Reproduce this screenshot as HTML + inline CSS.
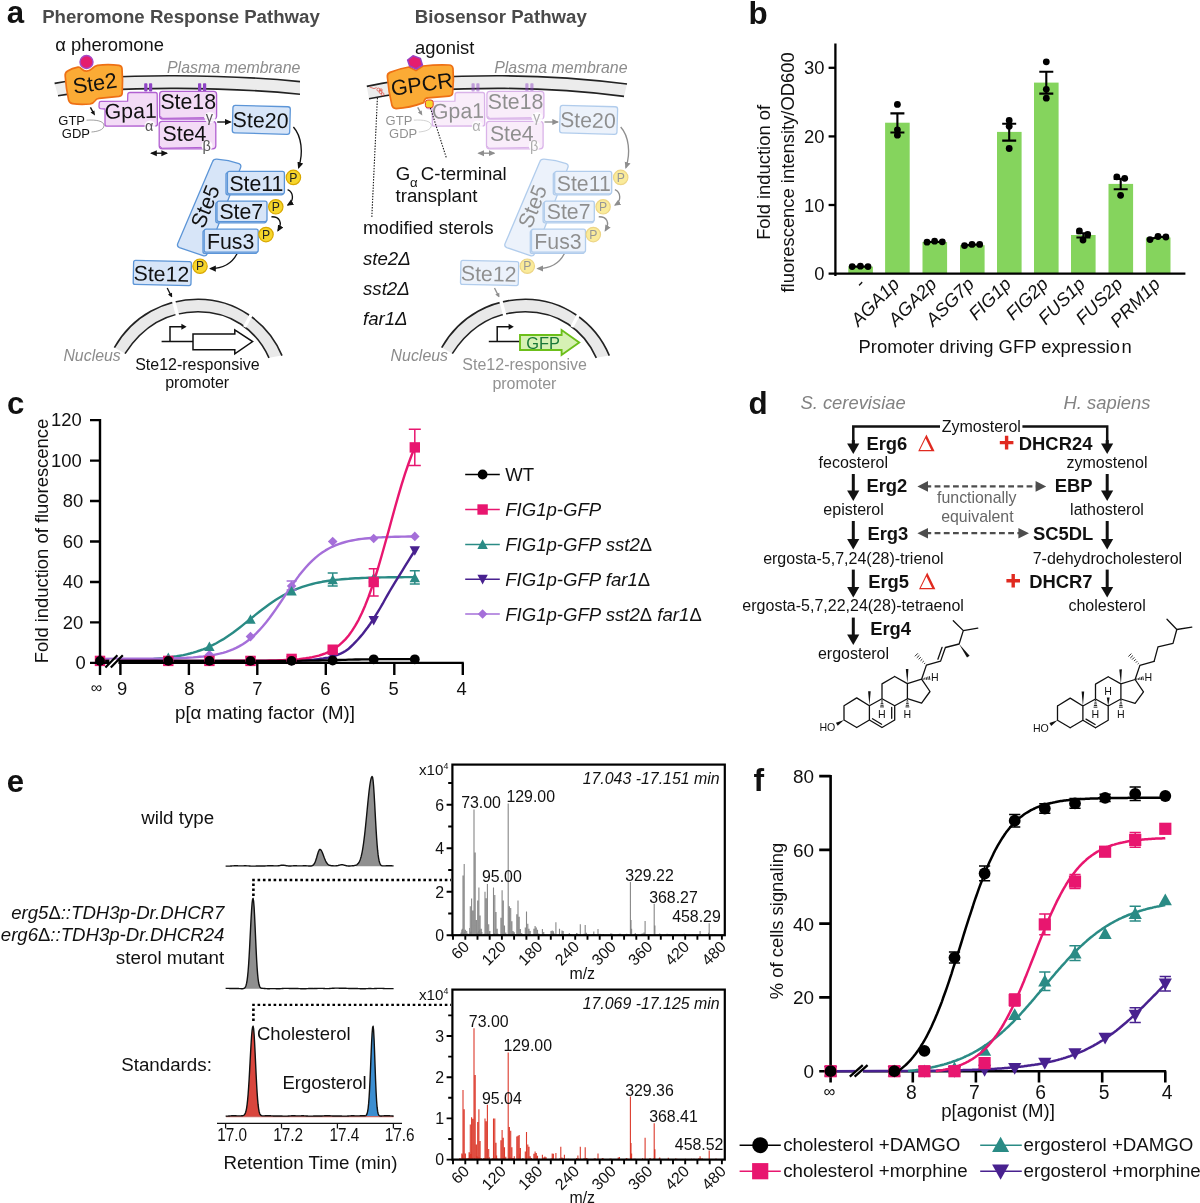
<!DOCTYPE html>
<html><head><meta charset="utf-8"><title>Figure</title>
<style>
html,body{margin:0;padding:0;background:#fff;}
body{width:1200px;height:1203px;overflow:hidden;font-family:"Liberation Sans",sans-serif;}
svg{display:block;font-family:"Liberation Sans",sans-serif;will-change:transform;}
text{font-family:"Liberation Sans",sans-serif;}
.i{font-style:italic}.b{font-weight:bold}
</style></head><body>
<svg width="1200" height="1203" viewBox="0 0 1200 1203">
<rect width="1200" height="1203" fill="#fff"/>
<!-- panel a -->
<defs>
<marker id="ah" viewBox="0 0 10 10" refX="8" refY="5" markerWidth="5" markerHeight="5" orient="auto-start-reverse"><path d="M0,0.5 L10,5 L0,9.5 Z" fill="#111"/></marker>
<g id="pbox">
</g>
<g id="cascade" font-size="21.3" fill="#111">
  <!-- lipid anchors -->
  <g fill="#8e44c4"><rect x="144.2" y="83.2" width="3.2" height="8.4" rx="0.8"/><rect x="149" y="83.2" width="3.2" height="8.4" rx="0.8"/><rect x="198" y="83.2" width="3.2" height="8.4" rx="0.8"/><rect x="203" y="83.2" width="3.2" height="8.4" rx="0.8"/></g>
  <!-- Gpa1 -->
  <path d="M130,92.5 L155.5,92.5 Q157.2,92.5 157.2,94.5 L157.4,124 Q157.4,126 155.4,126 L107,126.2 Q105,126.2 105,124.2 L105,109 L100.5,108.6 Q99,108.4 99,106.8 L99.2,103 Q99.3,101.3 101,101.3 L127.6,101.2 L127.8,94.5 Q127.9,92.5 130,92.5 Z" fill="#f3dbf6" stroke="#b160d1" stroke-width="1.3" stroke-linejoin="round"/>
  <!-- Ste18 -->
  <rect x="159.6" y="91.4" width="57" height="27.6" rx="3" fill="#f3dbf6" stroke="#b160d1" stroke-width="1.3"/>
  <path d="M160.5,116 Q161,118.2 163,118.3 L204,117.6" fill="none" stroke="#b160d1" stroke-width="1"/>
  <!-- Ste4 -->
  <rect x="159.2" y="121.4" width="56.6" height="27.4" rx="3" fill="#f3dbf6" stroke="#b160d1" stroke-width="1.3"/>
  <path d="M160,146 Q160.5,148 162.5,148.2 L202,147.4" fill="none" stroke="#b160d1" stroke-width="1"/>
  <!-- greek halos -->
  <g fill="#fff" opacity="0.85"><circle cx="150" cy="126" r="5.5"/><circle cx="210" cy="117.5" r="5.5"/><circle cx="207" cy="146" r="5.5"/></g>
  <g font-size="14.5" fill="#555"><text x="145" y="130.5">α</text><text x="205.8" y="121.5">γ</text><text x="202.6" y="150.5">β</text></g>
  <!-- Ste20 -->
  <g transform="rotate(1.6 261 120)"><rect x="232.6" y="106" width="57.4" height="27.6" rx="2.5" fill="#d7e5f8" stroke="#5c95d7" stroke-width="1.3"/>
  <text x="232.8" y="127.6">Ste20</text></g>
  <text x="104.6" y="118.2" transform="rotate(-1 130 110)">Gpa1</text>
  <text x="160.4" y="108.6">Ste18</text>
  <text x="162.6" y="141.4">Ste4</text>
  <!-- GTP GDP -->
  <g font-size="13"><text x="58.3" y="124.6">GTP</text><text x="61.8" y="137.6">GDP</text></g>
  <path d="M86.5,120.2 C96,119.5 104,121 104,125.5 C104,130 97,131.6 91.5,132" fill="none" stroke="#777" stroke-width="0.7"/>
  <!-- arrows -->
  <g stroke="#111" stroke-width="1.35" fill="none">
   <path d="M90.4,107.4 L93.2,112.4"/><path d="M95,115.4 L90.6,112.6 L94.4,110.4 Z" fill="#111" stroke="none"/>
   <path d="M217.2,122 L230.4,122" marker-end="url(#ah)"/>
   <path d="M151.4,153.2 L166.8,153.2" marker-end="url(#ah)" marker-start="url(#ah)"/>
   <path d="M293.4,127 C301.5,136 303.6,153 298.6,167.6" marker-end="url(#ah)"/>
   <path d="M287.6,189.6 C293.5,192 294.5,201 287.8,205" marker-end="url(#ah)"/>
   <path d="M271.4,216.8 C279.5,216.5 282.8,222.5 278,230.6" marker-end="url(#ah)"/>
   <path d="M237,253.8 C232,263.5 222,268.6 210.4,268.6" marker-end="url(#ah)"/>
   <path d="M167.2,288 L170.6,294.8"/><path d="M172.2,297.8 L168,294.6 L172,292.8 Z" fill="#111" stroke="none"/>
  </g>
  <!-- Ste5 -->
  <path d="M212.4,162 Q213.4,159 216.8,159.2 C224,159.8 233,161.6 239,163.6 Q241.6,164.8 240.6,167.6 L207.4,253.6 Q206,256.6 203,255.6 L179.4,247.6 Q176.6,246.4 177.8,243.6 Z" fill="#d7e5f8" stroke="#5c95d7" stroke-width="1.3" stroke-linejoin="round"/>
  <text x="0" y="0" transform="translate(203.8,229.4) rotate(-68)">Ste5</text>
  <!-- kinase boxes -->
  <g fill="#d7e5f8" stroke="#5c95d7" stroke-width="1.3">
   <rect x="226" y="172.6" width="57.4" height="22.2" rx="2"/><rect x="227.4" y="171.4" width="57" height="22.4" rx="2"/>
   <rect x="215.8" y="202.4" width="50.4" height="20.4" rx="2"/><rect x="217" y="201.2" width="50" height="20.4" rx="2"/>
   <rect x="203" y="230.4" width="54" height="23" rx="2"/><rect x="204.2" y="229.2" width="54" height="23" rx="2"/>
   <rect x="133.4" y="261" width="57.8" height="24" rx="2" transform="rotate(1.2 162 273)"/>
  </g>
  <text x="229.4" y="191">Ste11</text>
  <text x="219.4" y="218.8">Ste7</text>
  <text x="207" y="248.6">Fus3</text>
  <text x="133.6" y="281.2" transform="rotate(1.2 162 273)">Ste12</text>
  <!-- P -->
  <g fill="#f6d52b" stroke="#d9a800" stroke-width="1.2"><circle cx="293.4" cy="177.4" r="7.2"/><circle cx="275.8" cy="206.8" r="7.2"/><circle cx="266" cy="234.6" r="7.2"/><circle cx="200" cy="266.2" r="7.2"/></g>
  <g font-size="12.2" fill="#222" text-anchor="middle"><text x="293.4" y="181.6">P</text><text x="275.8" y="211">P</text><text x="266" y="238.8">P</text><text x="200" y="270.4">P</text></g>
</g>
<g id="membrane">
  <path d="M54.6,83.4 C90,77 130,75.6 175,75.8 S260,77.6 300,81.6 L300,94.2 C260,90.2 222,88.6 177,88.4 S92,89.6 58,95.8 Z" fill="#ececec"/>
  <path d="M54.6,83.4 C90,77 130,75.6 175,75.8 S260,77.6 300,81.6 M58,95.8 C92,89.6 132,88.2 177,88.4 S260,90.2 300,94.2" fill="none" stroke="#222" stroke-width="1.6"/>
</g>
<g id="nucleus">
  <path d="M114.4,347.6 C133,315 165,299.4 198,299.2 C235,299 268,322 282,355.6 L269,357.8 C256,329 230,311.8 198,311.8 C168,311.8 143,326 125,353.6 Z" fill="#e9e9e9"/>
  <path d="M114.4,347.6 C133,315 165,299.4 198,299.2 C235,299 268,322 282,355.6 M269,357.8 C256,329 230,311.8 198,311.8 C168,311.8 143,326 125,353.6" fill="none" stroke="#222" stroke-width="1.6"/>
  <path d="M172.6,297 L177.6,316 M252.6,312 L244.6,327" stroke="#fff" stroke-width="3.4" fill="none"/>
</g>
</defs>

<text x="6.8" y="23.2" font-size="31.2" class="b" fill="#111">a</text>
<text x="42.2" y="22.8" font-size="18.65" class="b" fill="#4a4a4a">Pheromone Response Pathway</text>
<text x="414.8" y="22.8" font-size="18.65" class="b" fill="#4a4a4a">Biosensor Pathway</text>

<!-- LEFT -->
<use href="#membrane"/>
<text x="55.2" y="50.8" font-size="18.4" fill="#111">α pheromone</text>
<text x="167" y="72.8" font-size="15.9" class="i" fill="#8c8c8c">Plasma membrane</text>
<!-- Ste2 -->
<path d="M65.2,76 Q64.8,72.6 67.6,71 Q72,68.2 78,67.2 Q80,67 81.6,69 Q86.6,73.6 92,68.6 Q94.6,66 97.4,65.4 Q108,64 119,65.4 Q121.8,65.8 122,68.6 Q123,80 122.2,93 Q122,96 119,96.4 L99,98.4 Q96.2,98.8 95.2,100.6 Q93.4,103.4 90,104 Q80,105 72.4,103.6 Q69.4,103 68.6,100 Q66,88 65.2,76 Z" fill="#fbab35" stroke="#ee7014" stroke-width="1.7" stroke-linejoin="round"/>
<circle cx="86.5" cy="62" r="6.5" fill="#e41d6f" stroke="#a648c6" stroke-width="1.4"/>
<text x="73" y="90.6" font-size="21.6" fill="#111" transform="rotate(-8.2 95 86)">Ste2</text>
<use href="#cascade"/>
<use href="#nucleus"/>
<text x="63.4" y="360.6" font-size="15.9" class="i" fill="#8c8c8c">Nucleus</text>
<g font-size="16" fill="#111" text-anchor="middle"><text x="197.4" y="370">Ste12-responsive</text><text x="197.2" y="388.4">promoter</text></g>
<g stroke="#111" stroke-width="1.5" fill="none">
 <path d="M161.6,341.4 L193,341.4 M170,341.4 L170,326.8 L182,326.8"/>
 <path d="M193,334 L234.8,334 L234.8,329.8 L252.6,341.6 L234.8,353.8 L234.8,349.8 L193,349.8 Z" fill="#fff"/>
</g>
<path d="M181.4,323.8 L186.6,326.8 L181.4,329.8 Z" fill="#111"/>

<!-- RIGHT -->
<path d="M366.8,86.4 L381.9,83.4 C417.3,77 457.3,75.6 502.3,75.8 S587.3,79 627,84 L624,96.4 C586,91.4 549.3,88.6 504.3,88.4 S419.3,89.6 385.3,95.8 L369,98.8 Z" fill="#ececec"/>
<path d="M366.8,86.4 L381.9,83.4 C417.3,77 457.3,75.6 502.3,75.8 S587.3,79 627,84 M369,98.8 L385.3,95.8 C419.3,89.6 459.3,88.2 504.3,88.4 S586,91.4 624,96.4" fill="none" stroke="#222" stroke-width="1.6"/>
<g transform="translate(327.3,0)">
 <use href="#cascade" opacity="0.47"/>
 <use href="#nucleus"/>
</g>
<text x="494.2" y="72.8" font-size="15.9" class="i" fill="#8c8c8c">Plasma membrane</text>
<text x="390.6" y="360.6" font-size="15.9" class="i" fill="#8c8c8c">Nucleus</text>
<g font-size="16" fill="#929292" text-anchor="middle"><text x="524.6" y="370.4">Ste12-responsive</text><text x="524.4" y="388.8">promoter</text></g>
<text x="415" y="54.4" font-size="18.4" fill="#111">agonist</text>
<!-- GPCR -->
<path d="M387.4,77 Q387,73.6 390,72.4 Q399,68.6 409,67 L416,70.6 L423,66 Q437,64.4 449,65 Q452.6,65.2 453,68.6 Q454,80 452.6,93 Q452.2,96 449,96.2 L428,97.8 Q425,98 424.4,100.4 L423.6,102.6 Q410,107.8 396,108.6 Q393,108.6 392,105.6 Q388.6,92 387.4,77 Z" fill="#fbab35" stroke="#ee7014" stroke-width="1.7" stroke-linejoin="round"/>
<path d="M407.6,60 L413,55.8 L420.4,58.4 L422.4,65 L416.2,69 L409.6,66 Z" fill="#e41d6f" stroke="#9b3fc0" stroke-width="1.5" stroke-linejoin="round"/>
<text x="391" y="91.8" font-size="21.5" fill="#111" transform="rotate(-7.8 420 86)">GPCR</text>
<rect x="425.4" y="100" width="7.8" height="7.8" rx="2.4" fill="#f6d52b" stroke="#e23a2a" stroke-width="1"/>
<!-- sterol icon -->
<g stroke="#e0463a" stroke-width="0.7" fill="none"><path d="M369.6,87 L374,88.6 L376.6,87.6"/><circle cx="378.4" cy="89.6" r="1.5"/><circle cx="380.6" cy="92" r="1.5"/><circle cx="382.6" cy="94.2" r="1.4"/><circle cx="381" cy="90" r="1.2"/></g>
<g stroke="#111" stroke-width="1.1" stroke-dasharray="1.4 1.4" fill="none"><path d="M377.4,98 L371.8,217.6"/><path d="M430.4,108 L446.6,158.6"/></g>
<g font-size="18.65" fill="#111">
 <text x="395.8" y="180.2">G</text><text x="410" y="187" font-size="13.2">α</text><text x="420.8" y="180.2">C-terminal</text>
 <text x="395.6" y="201.8">transplant</text>
 <text x="363" y="233.6">modified sterols</text>
 <g class="i"><text x="363" y="265">ste2Δ</text><text x="363" y="295">sst2Δ</text><text x="363" y="325">far1Δ</text></g>
</g>
<g stroke="#111" stroke-width="1.5" fill="none">
 <path d="M488.8,341.4 L520,341.4 M497.2,341.4 L497.2,326.8 L509.2,326.8"/>
</g>
<path d="M508.6,323.8 L513.8,326.8 L508.6,329.8 Z" fill="#111"/>
<path d="M520,335 L561.6,335 L561.6,330 L579.2,342.4 L561.6,355 L561.6,350 L520,350 Z" fill="#d6f1b4" stroke="#6cbf1a" stroke-width="1.9" stroke-linejoin="miter"/>
<text x="526.2" y="348.6" font-size="16.4" fill="#1a7838">GFP</text>

<!-- panel b -->
<text x="748.6" y="23.6" font-size="31.4" class="b" fill="#111">b</text>
<g fill="#85d45d">
<rect x="848.3" y="266.6" width="24.6" height="7.0"/>
<rect x="885.1" y="122.7" width="24.6" height="150.9"/>
<rect x="922.5" y="242.0" width="24.6" height="31.6"/>
<rect x="960.0" y="245.2" width="24.6" height="28.4"/>
<rect x="997.0" y="131.9" width="24.6" height="141.7"/>
<rect x="1034.0" y="82.6" width="24.6" height="191.0"/>
<rect x="1071.0" y="235.0" width="24.6" height="38.6"/>
<rect x="1108.5" y="183.9" width="24.6" height="89.7"/>
<rect x="1145.9" y="237.5" width="24.6" height="36.1"/>
</g>
<g stroke="#000" stroke-width="2.3" fill="none">
<path d="M835.4,43.6 L835.4,276.0 M828.6,273.6 L1185.4,273.6"/>
<path d="M828.6,205.0 L835.4,205.0"/>
<path d="M828.6,136.4 L835.4,136.4"/>
<path d="M828.6,67.8 L835.4,67.8"/>
</g>
<g font-size="18.4" fill="#111" text-anchor="end">
<text x="824.4" y="280.2">0</text>
<text x="824.4" y="211.6">10</text>
<text x="824.4" y="143.0">20</text>
<text x="824.4" y="74.4">30</text>
</g>
<g stroke="#000" stroke-width="2.1" fill="none">
<path d="M890.4,113.4 L904.4,113.4 M890.4,132.5 L904.4,132.5 M897.4,113.4 L897.4,132.5"/>
<path d="M1002.2,123.8 L1016.2,123.8 M1002.2,140.6 L1016.2,140.6 M1009.2,123.8 L1009.2,140.6"/>
<path d="M1039.3,71.8 L1053.3,71.8 M1039.3,93.6 L1053.3,93.6 M1046.3,71.8 L1046.3,93.6"/>
<path d="M1076.4,233.3 L1090.4,233.3 M1076.4,237.5 L1090.4,237.5 M1083.4,233.3 L1083.4,237.5"/>
<path d="M1113.7,178.9 L1127.7,178.9 M1113.7,189.3 L1127.7,189.3 M1120.7,178.9 L1120.7,189.3"/>
</g>
<g fill="#000">
<circle cx="852.2" cy="266.6" r="3.4"/>
<circle cx="860.4" cy="266.2" r="3.4"/>
<circle cx="868.0" cy="266.6" r="3.4"/>
<circle cx="897.4" cy="104.4" r="3.4"/>
<circle cx="897.4" cy="129.8" r="3.4"/>
<circle cx="897.4" cy="135.2" r="3.4"/>
<circle cx="927.0" cy="242.2" r="3.4"/>
<circle cx="934.6" cy="241.2" r="3.4"/>
<circle cx="942.3" cy="241.8" r="3.4"/>
<circle cx="964.5" cy="245.6" r="3.4"/>
<circle cx="972.0" cy="244.4" r="3.4"/>
<circle cx="979.7" cy="244.4" r="3.4"/>
<circle cx="1009.2" cy="120.5" r="3.4"/>
<circle cx="1009.2" cy="126.3" r="3.4"/>
<circle cx="1009.2" cy="148.5" r="3.4"/>
<circle cx="1046.3" cy="61.8" r="3.4"/>
<circle cx="1046.3" cy="89.3" r="3.4"/>
<circle cx="1046.3" cy="98.2" r="3.4"/>
<circle cx="1079.4" cy="230.9" r="3.4"/>
<circle cx="1083.0" cy="240.0" r="3.4"/>
<circle cx="1087.7" cy="234.4" r="3.4"/>
<circle cx="1116.8" cy="176.8" r="3.4"/>
<circle cx="1124.7" cy="178.3" r="3.4"/>
<circle cx="1120.6" cy="195.3" r="3.4"/>
<circle cx="1150.0" cy="239.6" r="3.4"/>
<circle cx="1158.0" cy="236.5" r="3.4"/>
<circle cx="1165.9" cy="237.0" r="3.4"/>
</g>
<g stroke="#000" stroke-width="2.2"><path d="M852.2,266.6 L868,266.6 M927,242 L942.3,241.8 M964.5,245.4 L979.7,244.4 M1150,239.4 L1158,236.8 L1165.9,237"/></g>
<g font-size="18.4" class="i" fill="#111" text-anchor="end">
<text transform="translate(866.1,285.2) rotate(-45)">-</text>
<text transform="translate(900.4,285.2) rotate(-45)">AGA1p</text>
<text transform="translate(937.8,285.2) rotate(-45)">AGA2p</text>
<text transform="translate(975.3,285.2) rotate(-45)">ASG7p</text>
<text transform="translate(1012.3,285.2) rotate(-45)">FIG1p</text>
<text transform="translate(1049.3,285.2) rotate(-45)">FIG2p</text>
<text transform="translate(1086.3,285.2) rotate(-45)">FUS1p</text>
<text transform="translate(1123.8,285.2) rotate(-45)">FUS2p</text>
<text transform="translate(1161.2,285.2) rotate(-45)">PRM1p</text>
</g>
<text x="858.6" y="353.4" font-size="18.4" fill="#111">Promoter driving GFP expressio<tspan dx="1.6">n</tspan></text>
<g font-size="18.4" fill="#111" text-anchor="middle"><text transform="translate(770.4,172.4) rotate(-90)">Fold induction of</text><text transform="translate(793.6,172.4) rotate(-90)">fluorescence intensity/OD600</text></g>
<!-- panel c -->
<text x="7" y="413.8" font-size="31.2" class="b" fill="#111">c</text>
<g fill="none" stroke-width="2.4" stroke-linejoin="round">
<path d="M100.0,660.9 L120.4,660.3 L123.7,660.3 L127.0,660.2 L130.3,660.1 L133.6,660.0 L136.9,659.8 L140.2,659.7 L143.6,659.6 L146.9,659.4 L150.2,659.2 L153.5,659.0 L156.8,658.7 L160.1,658.4 L163.4,658.1 L166.7,657.7 L170.0,657.3 L173.3,656.8 L176.6,656.3 L179.9,655.7 L183.3,655.1 L186.6,654.3 L189.9,653.5 L193.2,652.6 L196.5,651.6 L199.8,650.5 L203.1,649.3 L206.4,648.0 L209.7,646.5 L213.0,644.9 L216.3,643.2 L219.6,641.3 L223.0,639.4 L226.3,637.2 L229.6,635.0 L232.9,632.7 L236.2,630.2 L239.5,627.7 L242.8,625.1 L246.1,622.4 L249.4,619.8 L252.7,617.1 L256.0,614.4 L259.3,611.8 L262.6,609.2 L266.0,606.7 L269.3,604.3 L272.6,602.0 L275.9,599.8 L279.2,597.7 L282.5,595.8 L285.8,594.0 L289.1,592.3 L292.4,590.8 L295.7,589.3 L299.0,588.1 L302.3,586.9 L305.7,585.8 L309.0,584.8 L312.3,584.0 L315.6,583.2 L318.9,582.5 L322.2,581.8 L325.5,581.3 L328.8,580.8 L332.1,580.3 L335.4,579.9 L338.7,579.6 L342.0,579.3 L345.4,579.0 L348.7,578.8 L352.0,578.5 L355.3,578.3 L358.6,578.2 L361.9,578.0 L365.2,577.9 L368.5,577.8 L371.8,577.7 L375.1,577.6 L378.4,577.5 L381.7,577.4 L385.0,577.4 L388.4,577.3 L391.7,577.3 L395.0,577.2 L398.3,577.2 L401.6,577.2 L404.9,577.1 L408.2,577.1 L411.5,577.1 L414.8,577.1" stroke="#2a8b85"/>
<path d="M100.0,658.9 L120.4,658.8 L123.7,658.8 L127.0,658.8 L130.3,658.8 L133.6,658.8 L136.9,658.8 L140.2,658.7 L143.6,658.7 L146.9,658.7 L150.2,658.7 L153.5,658.6 L156.8,658.6 L160.1,658.6 L163.4,658.5 L166.7,658.4 L170.0,658.4 L173.3,658.3 L176.6,658.2 L179.9,658.1 L183.3,657.9 L186.6,657.8 L189.9,657.6 L193.2,657.4 L196.5,657.1 L199.8,656.8 L203.1,656.5 L206.4,656.1 L209.7,655.6 L213.0,655.1 L216.3,654.4 L219.6,653.7 L223.0,652.8 L226.3,651.8 L229.6,650.7 L232.9,649.4 L236.2,647.9 L239.5,646.1 L242.8,644.2 L246.1,641.9 L249.4,639.5 L252.7,636.7 L256.0,633.6 L259.3,630.2 L262.6,626.5 L266.0,622.5 L269.3,618.3 L272.6,613.8 L275.9,609.1 L279.2,604.3 L282.5,599.3 L285.8,594.4 L289.1,589.5 L292.4,584.7 L295.7,580.1 L299.0,575.6 L302.3,571.5 L305.7,567.5 L309.0,563.9 L312.3,560.6 L315.6,557.6 L318.9,554.9 L322.2,552.5 L325.5,550.4 L328.8,548.5 L332.1,546.8 L335.4,545.4 L338.7,544.1 L342.0,543.0 L345.4,542.0 L348.7,541.2 L352.0,540.5 L355.3,539.9 L358.6,539.3 L361.9,538.9 L365.2,538.5 L368.5,538.2 L371.8,537.9 L375.1,537.6 L378.4,537.4 L381.7,537.3 L385.0,537.1 L388.4,537.0 L391.7,536.9 L395.0,536.8 L398.3,536.7 L401.6,536.6 L404.9,536.6 L408.2,536.5 L411.5,536.5 L414.8,536.4" stroke="#a56fd9"/>
<path d="M100,660.9 L120.4,660.9 L122.9,660.9 L125.3,660.9 L127.8,660.9 L130.3,660.9 L132.8,660.9 L135.2,660.9 L137.7,660.9 L140.2,660.9 L142.7,660.9 L145.1,660.9 L147.6,660.9 L150.1,660.9 L152.6,660.9 L155.0,660.9 L157.5,660.9 L160.0,660.9 L162.5,660.9 L164.9,660.9 L167.4,660.9 L169.9,660.9 L172.4,660.9 L174.8,660.9 L177.3,660.9 L179.8,660.9 L182.3,660.9 L184.7,660.9 L187.2,660.9 L189.7,660.9 L192.1,660.9 L194.6,660.9 L197.1,660.9 L199.6,660.9 L202.0,660.9 L204.5,660.9 L207.0,660.9 L209.5,660.9 L211.9,660.9 L214.4,660.9 L216.9,660.9 L219.4,660.9 L221.8,660.9 L224.3,660.9 L226.8,660.9 L229.3,660.9 L231.7,660.9 L234.2,660.9 L236.7,660.9 L239.2,660.9 L241.6,660.9 L244.1,660.9 L246.6,660.9 L249.1,660.9 L251.5,660.9 L254.0,660.9 L256.5,660.9 L259.0,660.9 L261.4,660.9 L263.9,660.9 L266.4,660.9 L268.8,660.9 L271.3,660.9 L273.8,660.9 L276.3,660.9 L278.7,660.9 L281.2,660.9 L283.7,660.9 L286.2,660.9 L288.6,660.8 L291.1,660.8 L293.6,660.7 L296.1,660.7 L298.5,660.6 L301.0,660.5 L303.5,660.4 L306.0,660.2 L308.4,660.1 L310.9,659.9 L313.4,659.7 L315.9,659.4 L318.3,659.1 L320.8,658.8 L323.3,658.5 L325.8,658.0 L328.2,657.6 L330.7,657.0 L333.2,656.4 L335.6,655.6 L338.1,654.7 L340.6,653.6 L343.1,652.4 L345.5,651.0 L348.0,649.3 L350.5,647.0 L353.0,644.6 L355.4,642.1 L357.9,639.5 L360.4,636.6 L362.9,633.7 L365.3,630.5 L367.8,627.2 L370.3,623.7 L372.8,620.0 L375.2,616.2 L377.7,612.1 L380.2,608.0 L382.7,603.7 L385.1,599.3 L387.6,594.8 L390.1,590.5 L392.6,586.4 L395.0,582.4 L397.5,578.4 L400.0,574.4 L402.5,570.4 L404.9,566.4 L407.4,562.4 L409.9,558.4 L412.3,554.5 L414.8,550.6" stroke="#48218f"/>
<path d="M100.0,660.9 L120.4,660.9 L123.7,660.9 L127.0,660.9 L130.3,660.9 L133.6,660.9 L136.9,660.9 L140.2,660.9 L143.6,660.9 L146.9,660.9 L150.2,660.9 L153.5,660.9 L156.8,660.9 L160.1,660.9 L163.4,660.9 L166.7,660.9 L170.0,660.9 L173.3,660.9 L176.6,660.9 L179.9,660.9 L183.3,660.9 L186.6,660.9 L189.9,660.9 L193.2,660.9 L196.5,660.9 L199.8,660.9 L203.1,660.9 L206.4,660.9 L209.7,660.9 L213.0,660.9 L216.3,660.9 L219.6,660.9 L223.0,660.8 L226.3,660.8 L229.6,660.8 L232.9,660.8 L236.2,660.8 L239.5,660.8 L242.8,660.8 L246.1,660.8 L249.4,660.8 L252.7,660.7 L256.0,660.7 L259.3,660.7 L262.6,660.6 L266.0,660.6 L269.3,660.5 L272.6,660.5 L275.9,660.4 L279.2,660.3 L282.5,660.2 L285.8,660.0 L289.1,659.8 L292.4,659.6 L295.7,659.4 L299.0,659.1 L302.3,658.7 L305.7,658.3 L309.0,657.8 L312.3,657.2 L315.6,656.4 L318.9,655.6 L322.2,654.5 L325.5,653.3 L328.8,651.8 L332.1,650.1 L335.4,648.0 L338.7,645.6 L342.0,642.7 L345.4,639.4 L348.7,635.5 L352.0,630.9 L355.3,625.7 L358.6,619.8 L361.9,613.0 L365.2,605.4 L368.5,597.0 L371.8,587.7 L375.1,577.7 L378.4,566.9 L381.7,555.5 L385.0,543.7 L388.4,531.6 L391.7,519.5 L395.0,507.5 L398.3,495.9 L401.6,484.7 L404.9,474.2 L408.2,464.5 L411.5,455.5 L414.8,447.4" stroke="#e8166f"/>
<path d="M100.0,660.9 L120.4,660.9 L123.7,660.9 L127.0,660.9 L130.3,660.9 L133.6,660.9 L136.9,660.9 L140.2,660.9 L143.6,660.9 L146.9,660.9 L150.2,660.9 L153.5,660.9 L156.8,660.9 L160.1,660.9 L163.4,660.9 L166.7,660.9 L170.0,660.9 L173.3,660.9 L176.6,660.9 L179.9,660.9 L183.3,660.9 L186.6,660.9 L189.9,660.9 L193.2,660.9 L196.5,660.9 L199.8,660.9 L203.1,660.9 L206.4,660.9 L209.7,660.9 L213.0,660.9 L216.3,660.9 L219.6,660.9 L223.0,660.9 L226.3,660.9 L229.6,660.9 L232.9,660.9 L236.2,660.9 L239.5,660.9 L242.8,660.9 L246.1,660.9 L249.4,660.9 L252.7,660.9 L256.0,660.9 L259.3,660.9 L262.6,660.9 L266.0,660.9 L269.3,660.9 L272.6,660.9 L275.9,660.9 L279.2,660.8 L282.5,660.8 L285.8,660.8 L289.1,660.8 L292.4,660.8 L295.7,660.8 L299.0,660.8 L302.3,660.7 L305.7,660.7 L309.0,660.7 L312.3,660.6 L315.6,660.6 L318.9,660.5 L322.2,660.4 L325.5,660.4 L328.8,660.3 L332.1,660.2 L335.4,660.1 L338.7,660.0 L342.0,659.9 L345.4,659.8 L348.7,659.7 L352.0,659.6 L355.3,659.5 L358.6,659.5 L361.9,659.4 L365.2,659.3 L368.5,659.3 L371.8,659.2 L375.1,659.2 L378.4,659.2 L381.7,659.2 L385.0,659.1 L388.4,659.1 L391.7,659.1 L395.0,659.1 L398.3,659.1 L401.6,659.1 L404.9,659.1 L408.2,659.1 L411.5,659.1 L414.8,659.1" stroke="#000" stroke-width="2.3"/>
</g>
<path d="M286.6,581.0 L296.6,581.0 M286.6,590.1 L296.6,590.1 M291.6,581.0 L291.6,590.1" stroke="#a56fd9" stroke-width="1.5" fill="none"/>
<path d="M95.2,658.9 L100.0,654.1 L104.8,658.9 L100.0,663.7 Z" fill="#a56fd9"/>
<path d="M163.5,658.9 L168.3,654.1 L173.1,658.9 L168.3,663.7 Z" fill="#a56fd9"/>
<path d="M204.6,654.8 L209.4,650.0 L214.2,654.8 L209.4,659.6 Z" fill="#a56fd9"/>
<path d="M245.7,636.6 L250.5,631.8 L255.3,636.6 L250.5,641.4 Z" fill="#a56fd9"/>
<path d="M286.8,586.0 L291.6,581.2 L296.4,586.0 L291.6,590.8 Z" fill="#a56fd9"/>
<path d="M327.9,541.5 L332.7,536.7 L337.5,541.5 L332.7,546.3 Z" fill="#a56fd9"/>
<path d="M368.9,538.5 L373.7,533.7 L378.5,538.5 L373.7,543.3 Z" fill="#a56fd9"/>
<path d="M410.0,536.4 L414.8,531.6 L419.6,536.4 L414.8,541.2 Z" fill="#a56fd9"/>
<path d="M327.7,572.9 L337.7,572.9 M327.7,586.0 L337.7,586.0 M332.7,572.9 L332.7,586.0" stroke="#2a8b85" stroke-width="1.5" fill="none"/>
<path d="M409.8,570.8 L419.8,570.8 M409.8,584.0 L419.8,584.0 M414.8,570.8 L414.8,584.0" stroke="#2a8b85" stroke-width="1.5" fill="none"/>
<path d="M94.8,665.2 L105.2,665.2 L100.0,655.7 Z" fill="#2a8b85"/>
<path d="M163.1,662.2 L173.5,662.2 L168.3,652.6 Z" fill="#2a8b85"/>
<path d="M204.2,651.1 L214.6,651.1 L209.4,641.5 Z" fill="#2a8b85"/>
<path d="M245.3,623.8 L255.7,623.8 L250.5,614.2 Z" fill="#2a8b85"/>
<path d="M286.4,595.4 L296.8,595.4 L291.6,585.9 Z" fill="#2a8b85"/>
<path d="M327.5,584.3 L337.9,584.3 L332.7,574.7 Z" fill="#2a8b85"/>
<path d="M368.5,582.3 L378.9,582.3 L373.7,572.7 Z" fill="#2a8b85"/>
<path d="M409.6,582.3 L420.0,582.3 L414.8,572.7 Z" fill="#2a8b85"/>
<path d="M94.8,656.5 L105.2,656.5 L100.0,666.1 Z" fill="#48218f"/>
<path d="M163.1,656.5 L173.5,656.5 L168.3,666.1 Z" fill="#48218f"/>
<path d="M204.2,656.5 L214.6,656.5 L209.4,666.1 Z" fill="#48218f"/>
<path d="M245.3,656.5 L255.7,656.5 L250.5,666.1 Z" fill="#48218f"/>
<path d="M286.4,656.1 L296.8,656.1 L291.6,665.7 Z" fill="#48218f"/>
<path d="M327.5,652.1 L337.9,652.1 L332.7,661.6 Z" fill="#48218f"/>
<path d="M368.5,616.0 L378.9,616.0 L373.7,625.6 Z" fill="#48218f"/>
<path d="M409.6,546.2 L420.0,546.2 L414.8,555.8 Z" fill="#48218f"/>
<path d="M368.7,568.8 L378.7,568.8 M368.7,596.1 L378.7,596.1 M373.7,568.8 L373.7,596.1" stroke="#e8166f" stroke-width="1.5" fill="none"/>
<path d="M408.8,429.2 L420.8,429.2 M408.8,465.6 L420.8,465.6 M414.8,429.2 L414.8,465.6" stroke="#e8166f" stroke-width="1.5" fill="none"/>
<rect x="94.8" y="655.7" width="10.4" height="10.4" fill="#e8166f"/>
<rect x="163.1" y="655.7" width="10.4" height="10.4" fill="#e8166f"/>
<rect x="204.2" y="655.7" width="10.4" height="10.4" fill="#e8166f"/>
<rect x="245.3" y="655.7" width="10.4" height="10.4" fill="#e8166f"/>
<rect x="286.4" y="653.7" width="10.4" height="10.4" fill="#e8166f"/>
<rect x="327.5" y="644.5" width="10.4" height="10.4" fill="#e8166f"/>
<rect x="368.5" y="576.8" width="10.4" height="10.4" fill="#e8166f"/>
<rect x="409.6" y="442.2" width="10.4" height="10.4" fill="#e8166f"/>
<circle cx="100.0" cy="660.9" r="4.9" fill="#000"/>
<circle cx="168.3" cy="660.9" r="4.9" fill="#000"/>
<circle cx="209.4" cy="660.9" r="4.9" fill="#000"/>
<circle cx="250.5" cy="660.9" r="4.9" fill="#000"/>
<circle cx="291.6" cy="660.9" r="4.9" fill="#000"/>
<circle cx="332.7" cy="660.5" r="4.9" fill="#000"/>
<circle cx="373.7" cy="659.3" r="4.9" fill="#000"/>
<circle cx="414.8" cy="659.3" r="4.9" fill="#000"/>
<g stroke="#000" stroke-width="2.4" fill="none">
<path d="M100,419.1 L100,675 M99,662.9 L463.8,662.9 M90,662.9 L100,662.9 M90,622.4 L100,622.4 M90,582.0 L100,582.0 M90,541.5 L100,541.5 M90,501.0 L100,501.0 M90,460.6 L100,460.6 M90,420.1 L100,420.1 M120.4,662.9 L120.4,675 M188.9,662.9 L188.9,675 M257.3,662.9 L257.3,675 M325.8,662.9 L325.8,675 M394.3,662.9 L394.3,675 M462.8,662.9 L462.8,675"/>
</g>
<rect x="109.4" y="659.4" width="9" height="6.6" fill="#fff"/>
<path d="M105.4,667.6 L117.4,655.2 M110.8,667.6 L122.8,655.2" stroke="#000" stroke-width="2.2" fill="none"/>
<g font-size="18.4" fill="#111" text-anchor="end">
<text x="85.7" y="669.1">0</text>
<text x="83.3" y="628.6">20</text>
<text x="83.3" y="588.2">40</text>
<text x="83.3" y="547.7">60</text>
<text x="83.3" y="507.2">80</text>
<text x="81.8" y="466.8">100</text>
<text x="81.8" y="426.3">120</text>
</g>
<g font-size="18.4" fill="#111" text-anchor="middle">
<text x="122.0" y="694.8">9</text>
<text x="189.3" y="694.8">8</text>
<text x="257.3" y="694.8">7</text>
<text x="325.4" y="694.8">6</text>
<text x="393.5" y="694.8">5</text>
<text x="461.6" y="694.8">4</text>
<text x="96.4" y="693.4" font-size="16">∞</text>
<text x="265" y="719" font-size="18.7">p[α mating factor <tspan dx="2">(M)]</tspan></text>
<text transform="translate(47.6,541) rotate(-90)">Fold induction of fluorescence</text>
</g>
<path d="M465.2,474.5 L499.8,474.5" stroke="#000" stroke-width="1.5"/>
<circle cx="482.6" cy="474.5" r="4.9" fill="#000"/>
<path d="M465.2,509.5 L499.8,509.5" stroke="#e8166f" stroke-width="1.5"/>
<rect x="477.4" y="504.3" width="10.4" height="10.4" fill="#e8166f"/>
<path d="M465.2,544.5 L499.8,544.5" stroke="#2a8b85" stroke-width="1.5"/>
<path d="M477.4,548.9 L487.8,548.9 L482.6,539.3 Z" fill="#2a8b85"/>
<path d="M465.2,579.2 L499.8,579.2" stroke="#48218f" stroke-width="1.5"/>
<path d="M477.4,574.8 L487.8,574.8 L482.6,584.4 Z" fill="#48218f"/>
<path d="M465.2,614 L499.8,614" stroke="#a56fd9" stroke-width="1.5"/>
<path d="M477.8,614.0 L482.6,609.2 L487.4,614.0 L482.6,618.8 Z" fill="#a56fd9"/>
<g font-size="18.6" fill="#111">
<text x="505.2" y="481.3">WT</text>
<g class="i"><text x="505.2" y="516.3">FIG1p-GFP</text>
<text x="505.2" y="551.3">FIG1p-GFP sst2<tspan font-style="normal" font-size="18.4">Δ</tspan></text>
<text x="505.2" y="586.0">FIG1p-GFP far1<tspan font-style="normal" font-size="18.4">Δ</tspan></text>
<text x="505.2" y="620.8">FIG1p-GFP sst2<tspan font-style="normal" font-size="18.4">Δ</tspan> far1<tspan font-style="normal" font-size="18.4">Δ</tspan></text></g>
</g>
<!-- panel d -->
<text x="748.6" y="414" font-size="31.4" class="b" fill="#111">d</text>
<g font-size="18.4" class="i" fill="#828282"><text x="800.4" y="408.8">S. cerevisiae</text><text x="1063.6" y="408.8">H. sapiens</text></g>
<path d="M940,426.4 L853.3,426.4 L853.3,446 M1022.4,426.4 L1107.2,426.4 L1107.2,446" stroke="#111" stroke-width="2.5" fill="none" stroke-linejoin="miter"/>
<path d="M853.3,440 L853.3,448" stroke="#111" stroke-width="3" fill="none"/><path d="M847.0999999999999,443.5 L859.3,443.5 L853.3,454 Z" fill="#111"/>
<path d="M1107.2,440 L1107.2,448" stroke="#111" stroke-width="3" fill="none"/><path d="M1101.0,443.5 L1113.2,443.5 L1107.2,454 Z" fill="#111"/>
<path d="M853.3,474 L853.3,495" stroke="#111" stroke-width="3" fill="none"/><path d="M847.0999999999999,490.5 L859.3,490.5 L853.3,501 Z" fill="#111"/>
<path d="M1107.2,474 L1107.2,495" stroke="#111" stroke-width="3" fill="none"/><path d="M1101.0,490.5 L1113.2,490.5 L1107.2,501 Z" fill="#111"/>
<path d="M853.3,521 L853.3,543.6" stroke="#111" stroke-width="3" fill="none"/><path d="M847.0999999999999,539.1 L859.3,539.1 L853.3,549.6 Z" fill="#111"/>
<path d="M1107.2,521 L1107.2,543.6" stroke="#111" stroke-width="3" fill="none"/><path d="M1101.0,539.1 L1113.2,539.1 L1107.2,549.6 Z" fill="#111"/>
<path d="M853.3,569.6 L853.3,591.4" stroke="#111" stroke-width="3" fill="none"/><path d="M847.0999999999999,586.9 L859.3,586.9 L853.3,597.4 Z" fill="#111"/>
<path d="M1107.2,569.6 L1107.2,591.4" stroke="#111" stroke-width="3" fill="none"/><path d="M1101.0,586.9 L1113.2,586.9 L1107.2,597.4 Z" fill="#111"/>
<path d="M853.3,617.6 L853.3,639" stroke="#111" stroke-width="3" fill="none"/><path d="M847.0999999999999,634.5 L859.3,634.5 L853.3,645 Z" fill="#111"/>
<g font-size="16" fill="#111" text-anchor="middle">
<text x="981.3" y="432.0">Zymosterol</text>
<text x="853.3" y="467.6">fecosterol</text>
<text x="1107" y="467.6">zymostenol</text>
<text x="853.6" y="515.2">episterol</text>
<text x="1107" y="515.2">lathosterol</text>
<text x="853.4" y="563.6">ergosta-5,7,24(28)-trienol</text>
<text x="1107.4" y="563.6">7-dehydrocholesterol</text>
<text x="853.1" y="611.0">ergosta-5,7,22,24(28)-tetraenol</text>
<text x="1107.1" y="611.0">cholesterol</text>
<text x="853.5" y="659.0">ergosterol</text>
</g>
<g font-size="18.4" class="b" fill="#111">
<text x="866.4" y="449.8">Erg6</text>
<text x="866.4" y="492.0">Erg2</text>
<text x="867.4" y="540.0">Erg3</text>
<text x="868.2" y="587.8">Erg5</text>
<text x="870.2" y="634.8">Erg4</text>
<text x="1018.8" y="449.8">DHCR24</text>
<text x="1054.8" y="492.0">EBP</text>
<text x="1033" y="540.0">SC5DL</text>
<text x="1029.2" y="587.8">DHCR7</text>
</g>
<path fill-rule="evenodd" d="M918.20,451.20 L926.40,434.60 L934.60,451.20 Z M919.96,449.90 L925.62,438.44 L931.28,449.90 Z" fill="#e02a20"/>
<path fill-rule="evenodd" d="M919.00,589.20 L927.20,572.60 L935.40,589.20 Z M920.76,587.90 L926.42,576.44 L932.08,587.90 Z" fill="#e02a20"/>
<path d="M999.8000000000001,442.6 L1013.4,442.6 M1006.6,435.8 L1006.6,449.40000000000003" stroke="#e02a20" stroke-width="3.4" fill="none"/>
<path d="M1006.4000000000001,580.8 L1020.0,580.8 M1013.2,574.0 L1013.2,587.5999999999999" stroke="#e02a20" stroke-width="3.4" fill="none"/>
<g font-size="15.9" fill="#666" text-anchor="middle"><text x="976.8" y="503">functionally</text><text x="977.4" y="522">equivalent</text></g>
<path d="M925.4,486.4 L1038.2,486.4" stroke="#4d4d4d" stroke-width="2.2" stroke-dasharray="5.8 3.4" fill="none"/><path d="M917.4,486.4 L928.0,481.09999999999997 L928.0,491.7 Z M1046.2,486.4 L1035.6000000000001,481.09999999999997 L1035.6000000000001,491.7 Z" fill="#4d4d4d"/>
<path d="M925.4,533.2 L1021,533.2" stroke="#4d4d4d" stroke-width="2.2" stroke-dasharray="5.8 3.4" fill="none"/><path d="M917.4,533.2 L928.0,527.9000000000001 L928.0,538.5 Z M1029,533.2 L1018.4,527.9000000000001 L1018.4,538.5 Z" fill="#4d4d4d"/>
<path d="M959.1,644.0 L967.0,657.6 L969.6,655.8 Z" fill="#111"/><path d="M844.0,720.0 L844.0,705.8 M844.0,705.8 L856.7,697.9 M856.7,697.9 L869.4,705.8 M869.4,705.8 L869.4,720.0 M869.4,720.0 L856.7,727.5 M856.7,727.5 L844.0,720.0 M869.4,705.8 L882.0,698.7 M882.0,698.7 L894.7,705.8 M894.7,705.8 L894.7,720.0 M894.7,720.0 L882.0,727.5 M882.0,727.5 L869.4,720.0 M882.0,698.7 L882.0,683.9 M882.0,683.9 L894.7,676.5 M894.7,676.5 L907.4,683.6 M907.4,683.6 L907.4,698.7 M907.4,698.7 L894.7,705.8 M907.4,683.6 L921.6,679.2 M921.6,679.2 L930.0,691.5 M930.0,691.5 L921.6,703.1 M921.6,703.1 L907.4,698.7 M921.6,679.2 L926.4,665.1 M926.4,665.1 L940.6,661.1 M872.5,718.8 L881.6,724.2 M891.7,718.3 L891.7,707.5 M940.6,661.1 L945.4,647.5 M937.9,659.2 L942.1,647.3 M945.4,647.5 L959.1,644.0 M959.1,644.0 L963.3,630.6 M963.3,630.6 L953.3,620.8 M963.3,630.6 L977.8,628.2" stroke="#111" stroke-width="1.3" fill="none" stroke-linecap="round" stroke-linejoin="round"/><path d="M869.4,705.8 L870.7,691.2 L868.1,691.2 Z" fill="#111"/><path d="M907.4,683.6 L908.4,669.1 L905.8,669.1 Z" fill="#111"/><path d="M881.3,700.3 L882.7,700.3 M881.0,702.0 L883.0,702.0 M880.7,703.6 L883.3,703.6 M880.4,705.3 L883.6,705.3 M880.1,706.9 L883.9,706.9 " stroke="#111" stroke-width="0.9" fill="none"/><path d="M906.7,700.3 L908.1,700.3 M906.4,702.0 L908.4,702.0 M906.1,703.6 L908.7,703.6 M905.8,705.3 L909.0,705.3 M905.5,706.9 L909.3,706.9 " stroke="#111" stroke-width="0.9" fill="none"/><path d="M923.3,679.7 L923.1,678.3 M924.9,679.7 L924.7,677.7 M926.6,679.8 L926.2,677.2 M928.2,679.8 L927.8,676.7 M929.9,679.9 L929.3,676.1 " stroke="#111" stroke-width="0.9" fill="none"/><path d="M925.2,662.9 L924.2,663.9 M923.8,661.0 L922.4,662.3 M922.3,659.1 L920.5,660.8 M920.8,657.2 L918.6,659.3 M919.4,655.3 L916.8,657.8 M917.9,653.3 L914.9,656.3 " stroke="#111" stroke-width="0.9" fill="none"/><path d="M844.0,720.0 L835.9,722.8 L837.7,725.8 Z" fill="#111"/><g font-size="10.6" fill="#111"><text x="819.4" y="731.2">HO</text><text x="878.1" y="717.5">H</text><text x="903.5" y="717.5">H</text><text x="931.0" y="680.8">H</text>
<path d="M1057.5,720.2 L1057.5,706.0 M1057.5,706.0 L1070.2,698.1 M1070.2,698.1 L1082.9,706.0 M1082.9,706.0 L1082.9,720.2 M1082.9,720.2 L1070.2,727.8 M1070.2,727.8 L1057.5,720.2 M1082.9,706.0 L1095.5,699.0 M1095.5,699.0 L1108.2,706.0 M1108.2,706.0 L1108.2,720.2 M1108.2,720.2 L1095.5,727.8 M1095.5,727.8 L1082.9,720.2 M1095.5,699.0 L1095.5,684.1 M1095.5,684.1 L1108.2,676.8 M1108.2,676.8 L1120.9,683.9 M1120.9,683.9 L1120.9,699.0 M1120.9,699.0 L1108.2,706.0 M1120.9,683.9 L1135.1,679.5 M1135.1,679.5 L1143.5,691.8 M1143.5,691.8 L1135.1,703.4 M1135.1,703.4 L1120.9,699.0 M1135.1,679.5 L1139.9,665.4 M1139.9,665.4 L1154.1,661.4 M1086.0,719.1 L1095.1,724.5" stroke="#111" stroke-width="1.3" fill="none" stroke-linecap="round" stroke-linejoin="round"/><path d="M1082.9,706.0 L1084.2,691.5 L1081.6,691.5 Z" fill="#111"/><path d="M1120.9,683.9 L1121.9,669.3 L1119.3,669.4 Z" fill="#111"/><path d="M1094.8,700.6 L1096.2,700.6 M1094.5,702.2 L1096.5,702.2 M1094.2,703.9 L1096.8,703.9 M1093.9,705.5 L1097.1,705.5 M1093.6,707.2 L1097.4,707.2 " stroke="#111" stroke-width="0.9" fill="none"/><path d="M1120.2,700.6 L1121.6,700.6 M1119.9,702.2 L1121.9,702.2 M1119.6,703.9 L1122.2,703.9 M1119.3,705.5 L1122.5,705.5 M1119.0,707.2 L1122.8,707.2 " stroke="#111" stroke-width="0.9" fill="none"/><path d="M1136.8,679.9 L1136.6,678.5 M1138.4,680.0 L1138.2,678.0 M1140.1,680.0 L1139.7,677.4 M1141.7,680.1 L1141.3,676.9 M1143.4,680.1 L1142.8,676.4 " stroke="#111" stroke-width="0.9" fill="none"/><path d="M1138.7,663.2 L1137.7,664.1 M1137.3,661.2 L1135.9,662.6 M1135.8,659.3 L1134.0,661.1 M1134.3,657.4 L1132.1,659.6 M1132.9,655.5 L1130.3,658.0 M1131.4,653.6 L1128.4,656.5 " stroke="#111" stroke-width="0.9" fill="none"/><path d="M1057.5,720.2 L1049.4,723.0 L1051.2,726.1 Z" fill="#111"/><g font-size="10.6" fill="#111"><text x="1032.9" y="731.5">HO</text><text x="1091.6" y="717.8">H</text><text x="1117.0" y="717.8">H</text><text x="1144.5" y="681.1">H</text>
<path d="M1154.1,661.4 L1158.0,646.8 M1158.0,646.8 L1173.0,643.3 M1173.0,643.3 L1176.8,629.5 M1176.8,629.5 L1167.0,619.3 M1176.8,629.5 L1191.8,627.2" stroke="#111" stroke-width="1.3" fill="none" stroke-linecap="round" stroke-linejoin="round"/>
<path d="M1108.2,706.0 L1109.6,697.6 L1106.8,697.6 Z" fill="#111"/>
<text x="1104.3" y="694.8" font-size="10.6" fill="#111">H</text>
<!-- panel e -->
<text x="6.8" y="791.6" font-size="31.2" class="b" fill="#111">e</text>
<path d="M311.1,866.2 L311.1,866.0 L311.6,865.9 L312.1,865.7 L312.6,865.5 L313.1,865.1 L313.6,864.7 L314.1,864.0 L314.6,863.1 L315.1,862.1 L315.6,860.8 L316.1,859.3 L316.6,857.7 L317.1,855.9 L317.6,854.2 L318.1,852.6 L318.6,851.2 L319.1,850.2 L319.6,849.5 L320.1,849.4 L320.6,849.6 L321.1,850.2 L321.6,851.0 L322.1,852.0 L322.6,853.2 L323.1,854.5 L323.6,855.9 L324.1,857.3 L324.6,858.6 L325.1,859.8 L325.6,861.0 L326.1,861.9 L326.6,862.8 L327.1,863.4 L327.6,864.0 L328.1,864.5 L328.6,864.8 L329.1,865.1 L329.6,865.3 L330.1,865.4 L330.6,865.5 L331.1,865.6 L331.1,866.2 Z" fill="#8f8f8f"/><path d="M355.6,866.2 L355.6,865.3 L356.1,865.1 L356.6,864.9 L357.1,864.6 L357.6,864.1 L358.1,863.6 L358.6,863.0 L359.1,862.1 L359.6,861.1 L360.1,859.9 L360.6,858.4 L361.1,856.7 L361.6,854.6 L362.1,852.3 L362.6,849.5 L363.1,846.4 L363.6,843.0 L364.1,839.2 L364.6,835.0 L365.1,830.5 L365.6,825.8 L366.1,820.8 L366.6,815.7 L367.1,810.5 L367.6,805.4 L368.1,800.3 L368.6,795.5 L369.1,791.0 L369.6,787.0 L370.1,783.5 L370.6,780.6 L371.1,778.5 L371.6,777.1 L372.1,776.5 L372.6,777.4 L373.1,780.7 L373.6,786.3 L374.1,793.8 L374.6,802.4 L375.1,811.7 L375.6,821.0 L376.1,829.7 L376.6,837.6 L377.1,844.5 L377.6,850.2 L378.1,854.7 L378.6,858.1 L379.1,860.7 L379.6,862.5 L380.1,863.8 L380.6,864.7 L381.1,865.2 L381.1,866.2 Z" fill="#8f8f8f"/><path d="M225.6,866.1 L226.1,866.1 L226.6,866.1 L227.1,866.1 L227.6,866.1 L228.1,866.1 L228.6,866.1 L229.1,866.1 L229.6,866.1 L230.1,866.1 L230.6,866.0 L231.1,866.0 L231.6,866.0 L232.1,865.9 L232.6,865.9 L233.1,865.9 L233.6,865.9 L234.1,865.8 L234.6,865.8 L235.1,865.8 L235.6,865.8 L236.1,865.8 L236.6,865.8 L237.1,865.8 L237.6,865.8 L238.1,865.9 L238.6,865.9 L239.1,865.9 L239.6,865.9 L240.1,865.9 L240.6,865.9 L241.1,865.9 L241.6,865.9 L242.1,865.9 L242.6,865.9 L243.1,865.9 L243.6,865.9 L244.1,865.8 L244.6,865.8 L245.1,865.8 L245.6,865.8 L246.1,865.8 L246.6,865.9 L247.1,865.9 L247.6,865.9 L248.1,865.9 L248.6,865.9 L249.1,866.0 L249.6,866.0 L250.1,866.0 L250.6,866.1 L251.1,866.1 L251.6,866.1 L252.1,866.1 L252.6,866.1 L253.1,866.1 L253.6,866.1 L254.1,866.1 L254.6,866.1 L255.1,866.1 L255.6,866.1 L256.1,866.0 L256.6,866.0 L257.1,866.0 L257.6,866.0 L258.1,866.0 L258.6,866.0 L259.1,866.0 L259.6,866.0 L260.1,866.0 L260.6,866.0 L261.1,866.0 L261.6,866.0 L262.1,866.0 L262.6,866.0 L263.1,866.0 L263.6,866.0 L264.1,866.0 L264.6,866.0 L265.1,866.0 L265.6,865.9 L266.1,865.9 L266.6,865.9 L267.1,865.9 L267.6,865.8 L268.1,865.8 L268.6,865.8 L269.1,865.8 L269.6,865.8 L270.1,865.8 L270.6,865.8 L271.1,865.8 L271.6,865.8 L272.1,865.8 L272.6,865.8 L273.1,865.8 L273.6,865.9 L274.1,865.9 L274.6,865.9 L275.1,865.9 L275.6,865.9 L276.1,865.9 L276.6,865.9 L277.1,865.9 L277.6,865.9 L278.1,865.8 L278.6,865.7 L279.1,865.7 L279.6,865.6 L280.1,865.5 L280.6,865.4 L281.1,865.3 L281.6,865.3 L282.1,865.2 L282.6,865.2 L283.1,865.2 L283.6,865.2 L284.1,865.3 L284.6,865.4 L285.1,865.5 L285.6,865.5 L286.1,865.6 L286.6,865.7 L287.1,865.8 L287.6,865.9 L288.1,865.9 L288.6,866.0 L289.1,866.0 L289.6,866.0 L290.1,866.0 L290.6,866.0 L291.1,866.0 L291.6,865.9 L292.1,865.9 L292.6,865.9 L293.1,865.9 L293.6,865.8 L294.1,865.8 L294.6,865.8 L295.1,865.8 L295.6,865.8 L296.1,865.8 L296.6,865.8 L297.1,865.9 L297.6,865.9 L298.1,865.9 L298.6,865.9 L299.1,865.9 L299.6,865.9 L300.1,865.9 L300.6,865.9 L301.1,865.9 L301.6,865.9 L302.1,865.9 L302.6,865.9 L303.1,865.8 L303.6,865.8 L304.1,865.8 L304.6,865.8 L305.1,865.8 L305.6,865.8 L306.1,865.8 L306.6,865.9 L307.1,865.9 L307.6,865.9 L308.1,865.9 L308.6,866.0 L309.1,866.0 L309.6,866.0 L310.1,866.0 L310.6,866.0 L311.1,866.0 L311.6,865.9 L312.1,865.7 L312.6,865.5 L313.1,865.1 L313.6,864.7 L314.1,864.0 L314.6,863.1 L315.1,862.1 L315.6,860.8 L316.1,859.3 L316.6,857.7 L317.1,855.9 L317.6,854.2 L318.1,852.6 L318.6,851.2 L319.1,850.2 L319.6,849.5 L320.1,849.4 L320.6,849.6 L321.1,850.2 L321.6,851.0 L322.1,852.0 L322.6,853.2 L323.1,854.5 L323.6,855.9 L324.1,857.3 L324.6,858.6 L325.1,859.8 L325.6,861.0 L326.1,861.9 L326.6,862.8 L327.1,863.4 L327.6,864.0 L328.1,864.5 L328.6,864.8 L329.1,865.1 L329.6,865.3 L330.1,865.4 L330.6,865.5 L331.1,865.6 L331.6,865.7 L332.1,865.8 L332.6,865.8 L333.1,865.8 L333.6,865.9 L334.1,865.9 L334.6,865.9 L335.1,865.9 L335.6,865.9 L336.1,865.8 L336.6,865.8 L337.1,865.7 L337.6,865.6 L338.1,865.5 L338.6,865.3 L339.1,865.2 L339.6,865.1 L340.1,865.0 L340.6,864.9 L341.1,864.8 L341.6,864.8 L342.1,864.8 L342.6,864.8 L343.1,864.9 L343.6,865.0 L344.1,865.1 L344.6,865.3 L345.1,865.4 L345.6,865.5 L346.1,865.7 L346.6,865.8 L347.1,865.9 L347.6,865.9 L348.1,866.0 L348.6,866.0 L349.1,866.0 L349.6,866.0 L350.1,866.0 L350.6,865.9 L351.1,865.9 L351.6,865.9 L352.1,865.8 L352.6,865.8 L353.1,865.7 L353.6,865.7 L354.1,865.6 L354.6,865.5 L355.1,865.4 L355.6,865.3 L356.1,865.1 L356.6,864.9 L357.1,864.6 L357.6,864.1 L358.1,863.6 L358.6,863.0 L359.1,862.1 L359.6,861.1 L360.1,859.9 L360.6,858.4 L361.1,856.7 L361.6,854.6 L362.1,852.3 L362.6,849.5 L363.1,846.4 L363.6,843.0 L364.1,839.2 L364.6,835.0 L365.1,830.5 L365.6,825.8 L366.1,820.8 L366.6,815.7 L367.1,810.5 L367.6,805.4 L368.1,800.3 L368.6,795.5 L369.1,791.0 L369.6,787.0 L370.1,783.5 L370.6,780.6 L371.1,778.5 L371.6,777.1 L372.1,776.5 L372.6,777.4 L373.1,780.7 L373.6,786.3 L374.1,793.8 L374.6,802.4 L375.1,811.7 L375.6,821.0 L376.1,829.7 L376.6,837.6 L377.1,844.5 L377.6,850.2 L378.1,854.7 L378.6,858.1 L379.1,860.7 L379.6,862.5 L380.1,863.8 L380.6,864.7 L381.1,865.2 L381.6,865.6 L382.1,865.8 L382.6,865.9 L383.1,865.9 L383.6,865.9 L384.1,865.9 L384.6,865.9 L385.1,865.9 L385.6,865.9 L386.1,865.8 L386.6,865.8 L387.1,865.8 L387.6,865.8 L388.1,865.8 L388.6,865.8 L389.1,865.8 L389.6,865.8 L390.1,865.8 L390.6,865.8 L391.1,865.8 L391.6,865.8 L392.1,865.9 L392.6,865.9 L393.1,865.9 L393.6,865.9" fill="none" stroke="#111" stroke-width="1.4" stroke-linejoin="round"/>
<path d="M244.6,988.8 L244.6,988.0 L245.1,987.5 L245.6,986.6 L246.1,985.2 L246.6,983.2 L247.1,980.3 L247.6,976.4 L248.1,971.2 L248.6,964.7 L249.1,956.8 L249.6,947.7 L250.1,937.8 L250.6,927.7 L251.1,918.1 L251.6,909.7 L252.1,903.2 L252.6,899.3 L253.1,898.4 L253.6,901.1 L254.1,907.3 L254.6,916.3 L255.1,927.0 L255.6,938.4 L256.1,949.4 L256.6,959.2 L257.1,967.5 L257.6,974.1 L258.1,979.0 L258.6,982.5 L259.1,984.8 L259.6,986.3 L260.1,987.2 L260.6,987.8 L260.6,988.8 Z" fill="#8f8f8f"/><path d="M225.6,988.4 L226.1,988.4 L226.6,988.4 L227.1,988.4 L227.6,988.4 L228.1,988.4 L228.6,988.4 L229.1,988.4 L229.6,988.5 L230.1,988.5 L230.6,988.5 L231.1,988.5 L231.6,988.5 L232.1,988.5 L232.6,988.5 L233.1,988.5 L233.6,988.5 L234.1,988.5 L234.6,988.5 L235.1,988.5 L235.6,988.5 L236.1,988.5 L236.6,988.5 L237.1,988.5 L237.6,988.5 L238.1,988.5 L238.6,988.5 L239.1,988.6 L239.6,988.6 L240.1,988.6 L240.6,988.6 L241.1,988.7 L241.6,988.7 L242.1,988.7 L242.6,988.7 L243.1,988.6 L243.6,988.5 L244.1,988.4 L244.6,988.0 L245.1,987.5 L245.6,986.6 L246.1,985.2 L246.6,983.2 L247.1,980.3 L247.6,976.4 L248.1,971.2 L248.6,964.7 L249.1,956.8 L249.6,947.7 L250.1,937.8 L250.6,927.7 L251.1,918.1 L251.6,909.7 L252.1,903.2 L252.6,899.3 L253.1,898.4 L253.6,901.1 L254.1,907.3 L254.6,916.3 L255.1,927.0 L255.6,938.4 L256.1,949.4 L256.6,959.2 L257.1,967.5 L257.6,974.1 L258.1,979.0 L258.6,982.5 L259.1,984.8 L259.6,986.3 L260.1,987.2 L260.6,987.8 L261.1,988.1 L261.6,988.2 L262.1,988.3 L262.6,988.4 L263.1,988.4 L263.6,988.4 L264.1,988.5 L264.6,988.5 L265.1,988.5 L265.6,988.6 L266.1,988.6 L266.6,988.6 L267.1,988.6 L267.6,988.7 L268.1,988.7 L268.6,988.7 L269.1,988.7 L269.6,988.7 L270.1,988.6 L270.6,988.6 L271.1,988.6 L271.6,988.6 L272.1,988.6 L272.6,988.6 L273.1,988.6 L273.6,988.6 L274.1,988.6 L274.6,988.6 L275.1,988.6 L275.6,988.6 L276.1,988.7 L276.6,988.7 L277.1,988.7 L277.6,988.7 L278.1,988.7 L278.6,988.7 L279.1,988.7 L279.6,988.7 L280.1,988.7 L280.6,988.6 L281.1,988.6 L281.6,988.6 L282.1,988.5 L282.6,988.5 L283.1,988.5 L283.6,988.4 L284.1,988.4 L284.6,988.4 L285.1,988.4 L285.6,988.4 L286.1,988.4 L286.6,988.4 L287.1,988.4 L287.6,988.4 L288.1,988.4 L288.6,988.4 L289.1,988.5 L289.6,988.5 L290.1,988.5 L290.6,988.5 L291.1,988.5 L291.6,988.5 L292.1,988.5 L292.6,988.5 L293.1,988.5 L293.6,988.5 L294.1,988.5 L294.6,988.5 L295.1,988.5 L295.6,988.5 L296.1,988.5 L296.6,988.5 L297.1,988.5 L297.6,988.5 L298.1,988.5 L298.6,988.6 L299.1,988.6 L299.6,988.6 L300.1,988.6 L300.6,988.7 L301.1,988.7 L301.6,988.7 L302.1,988.7 L302.6,988.7 L303.1,988.7 L303.6,988.7 L304.1,988.7 L304.6,988.7 L305.1,988.7 L305.6,988.7 L306.1,988.7 L306.6,988.6 L307.1,988.6 L307.6,988.6 L308.1,988.6 L308.6,988.5 L309.1,988.5 L309.6,988.5 L310.1,988.5 L310.6,988.5 L311.1,988.5 L311.6,988.5 L312.1,988.5 L312.6,988.5 L313.1,988.5 L313.6,988.6 L314.1,988.5 L314.6,988.5 L315.1,988.5 L315.6,988.5 L316.1,988.5 L316.6,988.5 L317.1,988.5 L317.6,988.4 L318.1,988.4 L318.6,988.4 L319.1,988.4 L319.6,988.4 L320.1,988.4 L320.6,988.4 L321.1,988.4 L321.6,988.4 L322.1,988.4 L322.6,988.4 L323.1,988.4 L323.6,988.5 L324.1,988.5 L324.6,988.5 L325.1,988.6 L325.6,988.6 L326.1,988.6 L326.6,988.6 L327.1,988.6 L327.6,988.6 L328.1,988.6 L328.6,988.6 L329.1,988.6 L329.6,988.5 L330.1,988.5 L330.6,988.4 L331.1,988.4 L331.6,988.4 L332.1,988.3 L332.6,988.3 L333.1,988.2 L333.6,988.2 L334.1,988.2 L334.6,988.1 L335.1,988.1 L335.6,988.1 L336.1,988.1 L336.6,988.1 L337.1,988.1 L337.6,988.1 L338.1,988.1 L338.6,988.1 L339.1,988.2 L339.6,988.2 L340.1,988.2 L340.6,988.2 L341.1,988.2 L341.6,988.2 L342.1,988.2 L342.6,988.2 L343.1,988.3 L343.6,988.3 L344.1,988.3 L344.6,988.3 L345.1,988.3 L345.6,988.3 L346.1,988.3 L346.6,988.4 L347.1,988.4 L347.6,988.4 L348.1,988.4 L348.6,988.5 L349.1,988.5 L349.6,988.5 L350.1,988.5 L350.6,988.5 L351.1,988.5 L351.6,988.5 L352.1,988.5 L352.6,988.5 L353.1,988.5 L353.6,988.5 L354.1,988.5 L354.6,988.5 L355.1,988.5 L355.6,988.5 L356.1,988.5 L356.6,988.5 L357.1,988.5 L357.6,988.5 L358.1,988.6 L358.6,988.6 L359.1,988.6 L359.6,988.6 L360.1,988.7 L360.6,988.7 L361.1,988.7 L361.6,988.7 L362.1,988.7 L362.6,988.7 L363.1,988.7 L363.6,988.7 L364.1,988.7 L364.6,988.7 L365.1,988.7 L365.6,988.7 L366.1,988.6 L366.6,988.6 L367.1,988.6 L367.6,988.6 L368.1,988.6 L368.6,988.5 L369.1,988.5 L369.6,988.5 L370.1,988.5 L370.6,988.5 L371.1,988.5 L371.6,988.6 L372.1,988.6 L372.6,988.6 L373.1,988.6 L373.6,988.6 L374.1,988.6 L374.6,988.5 L375.1,988.5 L375.6,988.5 L376.1,988.5 L376.6,988.5 L377.1,988.4 L377.6,988.4 L378.1,988.4 L378.6,988.4 L379.1,988.4 L379.6,988.4 L380.1,988.4 L380.6,988.4 L381.1,988.4 L381.6,988.4 L382.1,988.4 L382.6,988.4 L383.1,988.5 L383.6,988.5 L384.1,988.5 L384.6,988.6 L385.1,988.6 L385.6,988.6 L386.1,988.6 L386.6,988.6 L387.1,988.6 L387.6,988.6 L388.1,988.6 L388.6,988.6 L389.1,988.6 L389.6,988.6 L390.1,988.6 L390.6,988.6 L391.1,988.6 L391.6,988.6 L392.1,988.6 L392.6,988.6 L393.1,988.6 L393.6,988.6" fill="none" stroke="#111" stroke-width="1.4" stroke-linejoin="round"/>
<path d="M244.1,1116.2 L244.1,1115.0 L244.6,1114.5 L245.1,1113.7 L245.6,1112.4 L246.1,1110.6 L246.6,1108.1 L247.1,1104.6 L247.6,1100.1 L248.1,1094.5 L248.6,1087.6 L249.1,1079.7 L249.6,1070.9 L250.1,1061.5 L250.6,1052.2 L251.1,1043.5 L251.6,1036.0 L252.1,1030.4 L252.6,1027.0 L253.1,1026.2 L253.6,1028.6 L254.1,1034.3 L254.6,1042.7 L255.1,1052.8 L255.6,1063.6 L256.1,1074.2 L256.6,1084.0 L257.1,1092.5 L257.6,1099.4 L258.1,1104.7 L258.6,1108.6 L259.1,1111.4 L259.6,1113.2 L260.1,1114.4 L260.6,1115.1 L260.6,1116.2 Z" fill="#d9463d"/><path d="M366.1,1116.2 L366.1,1115.3 L366.6,1114.7 L367.1,1113.6 L367.6,1111.6 L368.1,1108.6 L368.6,1103.9 L369.1,1097.4 L369.6,1088.9 L370.1,1078.4 L370.6,1066.5 L371.1,1054.1 L371.6,1042.6 L372.1,1033.3 L372.6,1027.5 L373.1,1026.2 L373.6,1030.4 L374.1,1039.9 L374.6,1052.9 L375.1,1067.1 L375.6,1080.7 L376.1,1092.2 L376.6,1101.0 L377.1,1107.2 L377.6,1111.2 L378.1,1113.5 L378.6,1114.8 L378.6,1116.2 Z" fill="#3b8ed1"/><path d="M226,1116.6 L393.6,1116.6" stroke="#c23a33" stroke-width="1.4" opacity="0.7"/><path d="M225.6,1116.1 L226.1,1116.1 L226.6,1116.1 L227.1,1116.1 L227.6,1116.1 L228.1,1116.1 L228.6,1116.0 L229.1,1116.0 L229.6,1116.0 L230.1,1115.9 L230.6,1115.9 L231.1,1115.9 L231.6,1115.8 L232.1,1115.8 L232.6,1115.8 L233.1,1115.8 L233.6,1115.8 L234.1,1115.8 L234.6,1115.8 L235.1,1115.8 L235.6,1115.8 L236.1,1115.8 L236.6,1115.9 L237.1,1115.9 L237.6,1115.9 L238.1,1115.9 L238.6,1115.9 L239.1,1115.9 L239.6,1115.9 L240.1,1115.9 L240.6,1115.9 L241.1,1115.9 L241.6,1115.8 L242.1,1115.8 L242.6,1115.7 L243.1,1115.6 L243.6,1115.4 L244.1,1115.0 L244.6,1114.5 L245.1,1113.7 L245.6,1112.4 L246.1,1110.6 L246.6,1108.1 L247.1,1104.6 L247.6,1100.1 L248.1,1094.5 L248.6,1087.6 L249.1,1079.7 L249.6,1070.9 L250.1,1061.5 L250.6,1052.2 L251.1,1043.5 L251.6,1036.0 L252.1,1030.4 L252.6,1027.0 L253.1,1026.2 L253.6,1028.6 L254.1,1034.3 L254.6,1042.7 L255.1,1052.8 L255.6,1063.6 L256.1,1074.2 L256.6,1084.0 L257.1,1092.5 L257.6,1099.4 L258.1,1104.7 L258.6,1108.6 L259.1,1111.4 L259.6,1113.2 L260.1,1114.4 L260.6,1115.1 L261.1,1115.5 L261.6,1115.7 L262.1,1115.9 L262.6,1115.9 L263.1,1115.9 L263.6,1115.9 L264.1,1115.9 L264.6,1115.9 L265.1,1115.8 L265.6,1115.8 L266.1,1115.8 L266.6,1115.8 L267.1,1115.8 L267.6,1115.8 L268.1,1115.8 L268.6,1115.8 L269.1,1115.8 L269.6,1115.8 L270.1,1115.8 L270.6,1115.8 L271.1,1115.9 L271.6,1115.9 L272.1,1115.9 L272.6,1115.9 L273.1,1116.0 L273.6,1116.0 L274.1,1116.0 L274.6,1116.0 L275.1,1116.0 L275.6,1116.0 L276.1,1116.0 L276.6,1116.0 L277.1,1116.0 L277.6,1116.0 L278.1,1116.0 L278.6,1116.0 L279.1,1116.0 L279.6,1116.0 L280.1,1116.0 L280.6,1116.0 L281.1,1116.0 L281.6,1116.0 L282.1,1116.0 L282.6,1116.1 L283.1,1116.1 L283.6,1116.1 L284.1,1116.1 L284.6,1116.1 L285.1,1116.1 L285.6,1116.1 L286.1,1116.1 L286.6,1116.1 L287.1,1116.1 L287.6,1116.1 L288.1,1116.0 L288.6,1116.0 L289.1,1116.0 L289.6,1115.9 L290.1,1115.9 L290.6,1115.9 L291.1,1115.9 L291.6,1115.8 L292.1,1115.8 L292.6,1115.8 L293.1,1115.8 L293.6,1115.8 L294.1,1115.8 L294.6,1115.8 L295.1,1115.8 L295.6,1115.9 L296.1,1115.9 L296.6,1115.9 L297.1,1115.9 L297.6,1115.9 L298.1,1115.9 L298.6,1115.9 L299.1,1115.9 L299.6,1115.9 L300.1,1115.9 L300.6,1115.9 L301.1,1115.9 L301.6,1115.8 L302.1,1115.8 L302.6,1115.8 L303.1,1115.8 L303.6,1115.8 L304.1,1115.9 L304.6,1115.9 L305.1,1115.9 L305.6,1115.9 L306.1,1116.0 L306.6,1116.0 L307.1,1116.0 L307.6,1116.0 L308.1,1116.1 L308.6,1116.1 L309.1,1116.1 L309.6,1116.1 L310.1,1116.1 L310.6,1116.1 L311.1,1116.1 L311.6,1116.1 L312.1,1116.1 L312.6,1116.1 L313.1,1116.1 L313.6,1116.0 L314.1,1116.0 L314.6,1116.0 L315.1,1116.0 L315.6,1116.0 L316.1,1116.0 L316.6,1116.0 L317.1,1116.0 L317.6,1116.0 L318.1,1116.0 L318.6,1116.0 L319.1,1116.0 L319.6,1116.0 L320.1,1116.0 L320.6,1116.0 L321.1,1116.0 L321.6,1116.0 L322.1,1116.0 L322.6,1115.9 L323.1,1115.9 L323.6,1115.9 L324.1,1115.9 L324.6,1115.8 L325.1,1115.8 L325.6,1115.8 L326.1,1115.8 L326.6,1115.8 L327.1,1115.8 L327.6,1115.8 L328.1,1115.8 L328.6,1115.8 L329.1,1115.8 L329.6,1115.8 L330.1,1115.8 L330.6,1115.9 L331.1,1115.9 L331.6,1115.9 L332.1,1115.9 L332.6,1116.0 L333.1,1116.0 L333.6,1116.0 L334.1,1116.0 L334.6,1116.0 L335.1,1116.0 L335.6,1116.0 L336.1,1116.0 L336.6,1116.0 L337.1,1116.0 L337.6,1116.0 L338.1,1116.0 L338.6,1116.0 L339.1,1116.0 L339.6,1116.0 L340.1,1116.0 L340.6,1116.0 L341.1,1116.0 L341.6,1116.0 L342.1,1116.1 L342.6,1116.1 L343.1,1116.1 L343.6,1116.1 L344.1,1116.1 L344.6,1116.1 L345.1,1116.1 L345.6,1116.1 L346.1,1116.1 L346.6,1116.1 L347.1,1116.1 L347.6,1116.0 L348.1,1116.0 L348.6,1116.0 L349.1,1115.9 L349.6,1115.9 L350.1,1115.9 L350.6,1115.9 L351.1,1115.8 L351.6,1115.8 L352.1,1115.8 L352.6,1115.8 L353.1,1115.8 L353.6,1115.8 L354.1,1115.8 L354.6,1115.9 L355.1,1115.9 L355.6,1115.9 L356.1,1115.9 L356.6,1115.9 L357.1,1115.9 L357.6,1115.9 L358.1,1115.9 L358.6,1115.9 L359.1,1115.9 L359.6,1115.9 L360.1,1115.8 L360.6,1115.8 L361.1,1115.8 L361.6,1115.8 L362.1,1115.8 L362.6,1115.8 L363.1,1115.8 L363.6,1115.8 L364.1,1115.8 L364.6,1115.8 L365.1,1115.8 L365.6,1115.6 L366.1,1115.3 L366.6,1114.7 L367.1,1113.6 L367.6,1111.6 L368.1,1108.6 L368.6,1103.9 L369.1,1097.4 L369.6,1088.9 L370.1,1078.4 L370.6,1066.5 L371.1,1054.1 L371.6,1042.6 L372.1,1033.3 L372.6,1027.5 L373.1,1026.2 L373.6,1030.4 L374.1,1039.9 L374.6,1052.9 L375.1,1067.1 L375.6,1080.7 L376.1,1092.2 L376.6,1101.0 L377.1,1107.2 L377.6,1111.2 L378.1,1113.5 L378.6,1114.8 L379.1,1115.5 L379.6,1115.8 L380.1,1115.9 L380.6,1116.0 L381.1,1116.0 L381.6,1116.0 L382.1,1115.9 L382.6,1115.9 L383.1,1115.9 L383.6,1115.9 L384.1,1115.8 L384.6,1115.8 L385.1,1115.8 L385.6,1115.8 L386.1,1115.8 L386.6,1115.8 L387.1,1115.8 L387.6,1115.8 L388.1,1115.8 L388.6,1115.8 L389.1,1115.8 L389.6,1115.8 L390.1,1115.9 L390.6,1115.9 L391.1,1115.9 L391.6,1115.9 L392.1,1116.0 L392.6,1116.0 L393.1,1116.0 L393.6,1116.0" fill="none" stroke="#111" stroke-width="1.4" stroke-linejoin="round"/>
<g stroke="#000" stroke-width="2.3" fill="none" stroke-dasharray="2.6 2.75"><path d="M252.2,880 L451,880"/><path d="M252.2,1004.8 L451,1004.8"/></g>
<g stroke="#000" stroke-width="2.6" fill="none" stroke-dasharray="2.3 2.7"><path d="M253.4,883.6 L253.4,897"/><path d="M253.4,1008.6 L253.4,1021.6"/></g>
<path d="M217,1123.3 L402,1123.3 M225.6,1123.3 L225.6,1128.6 M281.5,1123.3 L281.5,1128.6 M337.4,1123.3 L337.4,1128.6 M393.4,1123.3 L393.4,1128.6" stroke="#111" stroke-width="1.25" fill="none"/>
<g font-size="15.2" fill="#111">
<text transform="translate(217.2,1141.2) scale(0.87,1)" font-size="17.6">17.0</text>
<text transform="translate(273.2,1141.2) scale(0.87,1)" font-size="17.6">17.2</text>
<text transform="translate(329.4,1141.2) scale(0.87,1)" font-size="17.6">17.4</text>
<text transform="translate(384.8,1141.2) scale(0.87,1)" font-size="17.6">17.6</text>
</g>
<g font-size="18.75" fill="#111">
<text x="223.4" y="1168.8">Retention Time (min)</text>
<text x="257" y="1040.4" font-size="18.5">Cholesterol</text><text x="282.4" y="1089" font-size="18.5">Ergosterol</text>
<text x="141.2" y="823.8">wild type</text>
<g text-anchor="end"><text x="224.4" y="918.8" class="i" font-size="18.62">erg5<tspan font-style="normal" font-size="18.4">Δ</tspan>::TDH3p-Dr.DHCR7</text><text x="224.4" y="941.4" class="i" font-size="18.62">erg6<tspan font-style="normal" font-size="18.4">Δ</tspan>::TDH3p-Dr.DHCR24</text><text x="224.2" y="964">sterol mutant</text></g>
<text x="121.2" y="1071">Standards:</text>
</g>
<path d="M459.9,935.2 L459.9,933.9 M460.6,935.2 L460.6,933.8 M461.2,935.2 L461.2,932.6 M461.8,935.2 L461.8,929.8 M462.4,935.2 L462.4,928.7 M463.0,935.2 L463.0,875.6 M463.6,935.2 L463.6,932.9 M464.2,935.2 L464.2,863.9 M464.8,935.2 L464.8,932.2 M465.4,935.2 L465.4,929.8 M466.1,935.2 L466.1,934.5 M466.7,935.2 L466.7,930.9 M467.3,935.2 L467.3,934.2 M467.9,935.2 L467.9,933.4 M469.1,935.2 L469.1,934.1 M469.7,935.2 L469.7,927.9 M470.3,935.2 L470.3,906.3 M470.9,935.2 L470.9,931.8 M471.6,935.2 L471.6,898.4 M472.8,935.2 L472.8,910.4 M473.4,935.2 L473.4,934.7 M474.0,935.2 L474.0,809.5 M475.2,935.2 L475.2,852.6 M475.8,935.2 L475.8,934.5 M476.4,935.2 L476.4,920.0 M477.1,935.2 L477.1,932.8 M477.7,935.2 L477.7,900.4 M478.3,935.2 L478.3,931.1 M478.9,935.2 L478.9,887.4 M479.5,935.2 L479.5,929.7 M480.1,935.2 L480.1,915.6 M480.7,935.2 L480.7,933.3 M481.3,935.2 L481.3,928.7 M481.9,935.2 L481.9,931.9 M483.2,935.2 L483.2,934.8 M483.8,935.2 L483.8,933.8 M485.0,935.2 L485.0,891.7 M486.2,935.2 L486.2,898.2 M487.4,935.2 L487.4,884.1 M488.1,935.2 L488.1,933.5 M488.7,935.2 L488.7,924.3 M489.3,935.2 L489.3,932.1 M489.9,935.2 L489.9,930.9 M490.5,935.2 L490.5,934.8 M492.3,935.2 L492.3,934.6 M492.9,935.2 L492.9,934.5 M493.5,935.2 L493.5,887.4 M494.2,935.2 L494.2,933.1 M494.8,935.2 L494.8,895.0 M496.0,935.2 L496.0,911.9 M496.6,935.2 L496.6,933.4 M497.2,935.2 L497.2,928.7 M497.8,935.2 L497.8,933.4 M498.4,935.2 L498.4,934.6 M500.9,935.2 L500.9,917.8 M502.1,935.2 L502.1,890.2 M502.7,935.2 L502.7,933.4 M503.3,935.2 L503.3,900.4 M503.9,935.2 L503.9,933.8 M504.5,935.2 L504.5,925.4 M505.2,935.2 L505.2,933.6 M505.8,935.2 L505.8,932.6 M506.4,935.2 L506.4,934.7 M507.0,935.2 L507.0,934.5 M508.2,935.2 L508.2,803.4 M508.8,935.2 L508.8,934.5 M509.4,935.2 L509.4,906.3 M510.0,935.2 L510.0,934.6 M510.7,935.2 L510.7,908.0 M511.3,935.2 L511.3,934.8 M511.9,935.2 L511.9,921.3 M512.5,935.2 L512.5,933.5 M513.1,935.2 L513.1,930.9 M513.7,935.2 L513.7,932.4 M514.3,935.2 L514.3,932.3 M515.5,935.2 L515.5,934.7 M516.8,935.2 L516.8,914.3 M518.0,935.2 L518.0,900.4 M518.6,935.2 L518.6,934.1 M519.2,935.2 L519.2,916.7 M520.4,935.2 L520.4,929.1 M521.0,935.2 L521.0,934.0 M521.7,935.2 L521.7,933.1 M522.3,935.2 L522.3,934.3 M523.5,935.2 L523.5,934.6 M524.1,935.2 L524.1,934.7 M525.3,935.2 L525.3,927.6 M525.9,935.2 L525.9,934.5 M526.5,935.2 L526.5,911.5 M527.8,935.2 L527.8,923.7 M529.0,935.2 L529.0,928.7 M529.6,935.2 L529.6,934.2 M530.2,935.2 L530.2,931.0 M530.8,935.2 L530.8,934.7 M531.4,935.2 L531.4,934.5 M533.3,935.2 L533.3,934.6 M533.9,935.2 L533.9,928.7 M535.1,935.2 L535.1,926.1 M536.3,935.2 L536.3,927.6 M536.9,935.2 L536.9,934.2 M537.5,935.2 L537.5,929.8 M538.2,935.2 L538.2,934.6 M538.8,935.2 L538.8,933.4 M542.4,935.2 L542.4,929.1 M543.7,935.2 L543.7,931.9 M544.3,935.2 L544.3,934.3 M547.3,935.2 L547.3,934.5 M549.8,935.2 L549.8,934.5 M550.4,935.2 L550.4,934.8 M551.0,935.2 L551.0,930.9 M552.2,935.2 L552.2,930.4 M553.4,935.2 L553.4,931.3 M554.0,935.2 L554.0,933.2 M555.9,935.2 L555.9,922.2 M558.9,935.2 L558.9,934.6 M559.5,935.2 L559.5,928.7 M560.1,935.2 L560.1,934.3 M560.8,935.2 L560.8,933.9 M562.0,935.2 L562.0,930.4 M563.2,935.2 L563.2,930.9 M564.4,935.2 L564.4,934.3 M566.9,935.2 L566.9,934.5 M567.5,935.2 L567.5,934.5 M568.1,935.2 L568.1,933.9 M568.7,935.2 L568.7,934.5 M569.3,935.2 L569.3,933.1 M569.9,935.2 L569.9,934.6 M570.5,935.2 L570.5,934.1 M571.1,935.2 L571.1,934.6 M571.8,935.2 L571.8,934.7 M575.4,935.2 L575.4,934.5 M576.6,935.2 L576.6,933.1 M577.3,935.2 L577.3,933.6 M577.9,935.2 L577.9,933.8 M578.5,935.2 L578.5,934.1 M579.1,935.2 L579.1,934.2 M579.7,935.2 L579.7,934.7 M580.3,935.2 L580.3,924.3 M582.8,935.2 L582.8,934.8 M583.4,935.2 L583.4,934.8 M584.0,935.2 L584.0,933.8 M585.2,935.2 L585.2,925.0 M585.8,935.2 L585.8,934.8 M586.4,935.2 L586.4,932.7 M587.6,935.2 L587.6,934.7 M591.3,935.2 L591.3,934.6 M592.5,935.2 L592.5,934.1 M593.1,935.2 L593.1,934.7 M593.8,935.2 L593.8,931.5 M594.4,935.2 L594.4,934.6 M595.0,935.2 L595.0,934.2 M598.0,935.2 L598.0,929.1 M598.6,935.2 L598.6,934.8 M599.9,935.2 L599.9,933.8 M601.1,935.2 L601.1,934.4 M601.7,935.2 L601.7,934.6 M602.3,935.2 L602.3,934.8 M603.5,935.2 L603.5,934.1 M606.0,935.2 L606.0,934.8 M610.9,935.2 L610.9,933.3 M612.1,935.2 L612.1,933.8 M617.6,935.2 L617.6,934.8 M618.2,935.2 L618.2,934.0 M618.8,935.2 L618.8,934.5 M619.4,935.2 L619.4,933.8 M620.6,935.2 L620.6,933.7 M625.5,935.2 L625.5,934.5 M626.7,935.2 L626.7,933.8 M628.0,935.2 L628.0,934.0 M628.6,935.2 L628.6,934.8 M629.2,935.2 L629.2,934.7 M630.4,935.2 L630.4,882.1 M631.0,935.2 L631.0,920.0 M631.6,935.2 L631.6,928.7 M634.1,935.2 L634.1,934.2 M634.7,935.2 L634.7,934.2 M635.3,935.2 L635.3,933.0 M635.9,935.2 L635.9,934.7 M636.5,935.2 L636.5,934.4 M637.7,935.2 L637.7,934.8 M641.4,935.2 L641.4,933.8 M642.0,935.2 L642.0,934.7 M642.6,935.2 L642.6,933.5 M643.9,935.2 L643.9,932.5 M644.5,935.2 L644.5,934.0 M645.1,935.2 L645.1,921.1 M647.5,935.2 L647.5,934.8 M650.0,935.2 L650.0,934.7 M650.6,935.2 L650.6,934.3 M651.2,935.2 L651.2,934.4 M654.2,935.2 L654.2,903.7 M654.9,935.2 L654.9,925.4 M657.9,935.2 L657.9,934.6 M659.1,935.2 L659.1,934.7 M659.7,935.2 L659.7,933.4 M660.4,935.2 L660.4,934.6 M664.6,935.2 L664.6,934.8 M665.9,935.2 L665.9,934.6 M667.1,935.2 L667.1,933.8 M668.3,935.2 L668.3,934.0 M668.9,935.2 L668.9,934.7 M669.5,935.2 L669.5,934.0 M670.7,935.2 L670.7,934.7 M676.2,935.2 L676.2,934.5 M677.5,935.2 L677.5,934.7 M678.1,935.2 L678.1,934.7 M682.3,935.2 L682.3,934.5 M683.0,935.2 L683.0,934.6 M684.2,935.2 L684.2,933.7 M684.8,935.2 L684.8,934.8 M685.4,935.2 L685.4,934.5 M686.6,935.2 L686.6,934.5 M692.7,935.2 L692.7,934.3 M694.0,935.2 L694.0,934.6 M698.8,935.2 L698.8,934.7 M699.5,935.2 L699.5,934.7 M700.1,935.2 L700.1,930.9 M700.7,935.2 L700.7,934.8 M701.3,935.2 L701.3,934.4 M706.2,935.2 L706.2,934.7 M707.4,935.2 L707.4,934.7 M708.6,935.2 L708.6,932.8 M709.2,935.2 L709.2,923.2 M709.8,935.2 L709.8,934.7 M711.1,935.2 L711.1,934.4 M712.3,935.2 L712.3,934.5 M714.7,935.2 L714.7,934.3 M716.0,935.2 L716.0,934.7 " stroke="#878787" stroke-width="1.1" fill="none"/><rect x="452.4" y="764.6" width="272.4" height="170.6" fill="none" stroke="#000" stroke-width="2.2"/><path d="M446.6,935.2 L452,935.2 M446.6,891.7 L452,891.7 M446.6,848.2 L452,848.2 M446.6,804.7 L452,804.7 M448.2,913.5 L452,913.5 M448.2,870.0 L452,870.0 M448.2,826.5 L452,826.5 M448.2,783.0 L452,783.0 M453.0,935.2 L453.0,939.8 M465.3,935.2 L465.3,939.8 M477.5,935.2 L477.5,939.8 M489.7,935.2 L489.7,939.8 M501.9,935.2 L501.9,939.8 M514.1,935.2 L514.1,939.8 M526.4,935.2 L526.4,939.8 M538.6,935.2 L538.6,939.8 M550.8,935.2 L550.8,939.8 M563.0,935.2 L563.0,939.8 M575.2,935.2 L575.2,939.8 M587.5,935.2 L587.5,939.8 M599.7,935.2 L599.7,939.8 M611.9,935.2 L611.9,939.8 M624.1,935.2 L624.1,939.8 M636.3,935.2 L636.3,939.8 M648.6,935.2 L648.6,939.8 M660.8,935.2 L660.8,939.8 M673.0,935.2 L673.0,939.8 M685.2,935.2 L685.2,939.8 M697.4,935.2 L697.4,939.8 M709.7,935.2 L709.7,939.8 M721.9,935.2 L721.9,939.8 " stroke="#000" stroke-width="1.9" fill="none"/><g font-size="15.9" fill="#111"><text x="444" y="941.0" text-anchor="end">0</text><text x="444" y="897.5" text-anchor="end">2</text><text x="444" y="854.0" text-anchor="end">4</text><text x="444" y="810.5" text-anchor="end">6</text><text transform="translate(470.3,947.8) rotate(-45)" text-anchor="end">60</text><text transform="translate(506.9,947.8) rotate(-45)" text-anchor="end">120</text><text transform="translate(543.6,947.8) rotate(-45)" text-anchor="end">180</text><text transform="translate(580.2,947.8) rotate(-45)" text-anchor="end">240</text><text transform="translate(616.9,947.8) rotate(-45)" text-anchor="end">300</text><text transform="translate(653.6,947.8) rotate(-45)" text-anchor="end">360</text><text transform="translate(690.2,947.8) rotate(-45)" text-anchor="end">420</text><text transform="translate(726.9,947.8) rotate(-45)" text-anchor="end">480</text><text x="582.2" y="978.8" text-anchor="middle">m/z</text><text x="719.6" y="783.5" text-anchor="end" class="i">17.043 -17.151 min</text><text x="461.2" y="807.6">73.00</text><text x="506.4" y="802.0">129.00</text><text x="482" y="882.2">95.00</text><text x="625.2" y="881.0">329.22</text><text x="649.2" y="902.6">368.27</text><text x="672.2" y="922.4">458.29</text></g><text x="419" y="775.4" font-size="15.2" fill="#111">x10<tspan font-size="8.8" dy="-6">4</tspan></text>
<path d="M459.9,1159.6 L459.9,1158.1 M460.6,1159.6 L460.6,1158.8 M461.2,1159.6 L461.2,1158.9 M461.8,1159.6 L461.8,1153.4 M462.4,1159.6 L462.4,1155.1 M463.0,1159.6 L463.0,1090.0 M463.6,1159.6 L463.6,1158.4 M464.2,1159.6 L464.2,1109.3 M464.8,1159.6 L464.8,1158.5 M465.4,1159.6 L465.4,1153.4 M466.1,1159.6 L466.1,1158.3 M466.7,1159.6 L466.7,1158.8 M467.3,1159.6 L467.3,1159.2 M467.9,1159.6 L467.9,1158.1 M468.5,1159.6 L468.5,1158.3 M469.1,1159.6 L469.1,1152.3 M469.7,1159.6 L469.7,1155.0 M470.3,1159.6 L470.3,1124.6 M470.9,1159.6 L470.9,1154.0 M471.6,1159.6 L471.6,1117.2 M472.2,1159.6 L472.2,1157.8 M472.8,1159.6 L472.8,1118.8 M474.0,1159.6 L474.0,1028.2 M474.6,1159.6 L474.6,1158.3 M475.2,1159.6 L475.2,1075.1 M476.4,1159.6 L476.4,1144.4 M477.1,1159.6 L477.1,1156.6 M477.7,1159.6 L477.7,1122.1 M478.3,1159.6 L478.3,1157.4 M478.9,1159.6 L478.9,1109.3 M479.5,1159.6 L479.5,1157.6 M480.1,1159.6 L480.1,1141.1 M480.7,1159.6 L480.7,1158.6 M481.3,1159.6 L481.3,1158.2 M482.6,1159.6 L482.6,1159.2 M483.2,1159.6 L483.2,1159.2 M483.8,1159.6 L483.8,1157.9 M484.4,1159.6 L484.4,1159.1 M485.0,1159.6 L485.0,1118.4 M485.6,1159.6 L485.6,1158.3 M486.2,1159.6 L486.2,1121.3 M486.8,1159.6 L486.8,1159.1 M487.4,1159.6 L487.4,1104.8 M488.1,1159.6 L488.1,1158.5 M488.7,1159.6 L488.7,1148.9 M489.3,1159.6 L489.3,1157.3 M489.9,1159.6 L489.9,1159.1 M491.1,1159.6 L491.1,1158.9 M492.3,1159.6 L492.3,1158.2 M493.5,1159.6 L493.5,1118.4 M494.2,1159.6 L494.2,1158.4 M494.8,1159.6 L494.8,1118.4 M495.4,1159.6 L495.4,1158.5 M496.0,1159.6 L496.0,1142.7 M496.6,1159.6 L496.6,1155.6 M497.2,1159.6 L497.2,1158.5 M497.8,1159.6 L497.8,1158.5 M498.4,1159.6 L498.4,1158.9 M499.7,1159.6 L499.7,1158.8 M500.3,1159.6 L500.3,1159.1 M500.9,1159.6 L500.9,1140.2 M501.5,1159.6 L501.5,1158.9 M502.1,1159.6 L502.1,1129.9 M502.7,1159.6 L502.7,1158.5 M503.3,1159.6 L503.3,1137.8 M503.9,1159.6 L503.9,1157.8 M504.5,1159.6 L504.5,1147.2 M505.2,1159.6 L505.2,1158.4 M505.8,1159.6 L505.8,1156.8 M506.4,1159.6 L506.4,1158.9 M508.2,1159.6 L508.2,1052.5 M508.8,1159.6 L508.8,1158.7 M509.4,1159.6 L509.4,1127.1 M510.0,1159.6 L510.0,1157.6 M510.7,1159.6 L510.7,1130.8 M511.3,1159.6 L511.3,1157.7 M511.9,1159.6 L511.9,1147.2 M512.5,1159.6 L512.5,1158.8 M513.1,1159.6 L513.1,1157.9 M514.3,1159.6 L514.3,1156.2 M516.8,1159.6 L516.8,1136.5 M518.0,1159.6 L518.0,1135.7 M518.6,1159.6 L518.6,1158.3 M519.2,1159.6 L519.2,1134.9 M519.8,1159.6 L519.8,1153.8 M520.4,1159.6 L520.4,1148.1 M522.3,1159.6 L522.3,1159.0 M522.9,1159.6 L522.9,1158.0 M524.1,1159.6 L524.1,1159.0 M525.3,1159.6 L525.3,1151.4 M525.9,1159.6 L525.9,1159.0 M526.5,1159.6 L526.5,1132.0 M527.8,1159.6 L527.8,1144.4 M528.4,1159.6 L528.4,1158.9 M529.0,1159.6 L529.0,1146.8 M529.6,1159.6 L529.6,1159.0 M530.2,1159.6 L530.2,1156.2 M531.4,1159.6 L531.4,1158.0 M533.9,1159.6 L533.9,1153.8 M535.1,1159.6 L535.1,1151.4 M535.7,1159.6 L535.7,1158.9 M536.3,1159.6 L536.3,1153.0 M536.9,1159.6 L536.9,1157.7 M537.5,1159.6 L537.5,1155.8 M538.2,1159.6 L538.2,1159.1 M538.8,1159.6 L538.8,1159.2 M539.4,1159.6 L539.4,1158.8 M540.0,1159.6 L540.0,1159.1 M541.8,1159.6 L541.8,1159.0 M542.4,1159.6 L542.4,1154.7 M543.7,1159.6 L543.7,1157.6 M544.3,1159.6 L544.3,1157.6 M544.9,1159.6 L544.9,1156.6 M546.1,1159.6 L546.1,1157.2 M547.3,1159.6 L547.3,1159.0 M548.5,1159.6 L548.5,1159.1 M550.4,1159.6 L550.4,1159.2 M551.0,1159.6 L551.0,1158.6 M551.6,1159.6 L551.6,1158.4 M552.2,1159.6 L552.2,1153.4 M552.8,1159.6 L552.8,1157.7 M553.4,1159.6 L553.4,1153.8 M554.6,1159.6 L554.6,1159.2 M555.9,1159.6 L555.9,1153.0 M559.5,1159.6 L559.5,1158.6 M560.8,1159.6 L560.8,1146.8 M562.0,1159.6 L562.0,1157.6 M562.6,1159.6 L562.6,1159.2 M563.2,1159.6 L563.2,1158.3 M564.4,1159.6 L564.4,1154.7 M565.6,1159.6 L565.6,1159.2 M566.9,1159.6 L566.9,1158.7 M568.1,1159.6 L568.1,1159.1 M568.7,1159.6 L568.7,1158.7 M569.3,1159.6 L569.3,1159.2 M569.9,1159.6 L569.9,1159.1 M571.8,1159.6 L571.8,1159.1 M575.4,1159.6 L575.4,1159.2 M576.6,1159.6 L576.6,1158.0 M577.9,1159.6 L577.9,1155.5 M578.5,1159.6 L578.5,1158.5 M580.3,1159.6 L580.3,1146.8 M584.0,1159.6 L584.0,1158.3 M585.2,1159.6 L585.2,1147.2 M586.4,1159.6 L586.4,1158.0 M587.6,1159.6 L587.6,1158.5 M593.8,1159.6 L593.8,1158.8 M595.0,1159.6 L595.0,1157.9 M598.0,1159.6 L598.0,1153.4 M599.9,1159.6 L599.9,1158.9 M601.1,1159.6 L601.1,1158.9 M601.7,1159.6 L601.7,1158.9 M602.3,1159.6 L602.3,1158.0 M602.9,1159.6 L602.9,1159.1 M603.5,1159.6 L603.5,1158.4 M604.8,1159.6 L604.8,1159.2 M608.4,1159.6 L608.4,1159.1 M609.6,1159.6 L609.6,1158.8 M610.9,1159.6 L610.9,1158.5 M611.5,1159.6 L611.5,1159.0 M612.7,1159.6 L612.7,1159.2 M615.7,1159.6 L615.7,1159.2 M617.0,1159.6 L617.0,1159.2 M617.6,1159.6 L617.6,1158.9 M618.2,1159.6 L618.2,1157.5 M619.4,1159.6 L619.4,1157.1 M625.5,1159.6 L625.5,1158.8 M626.1,1159.6 L626.1,1159.1 M626.7,1159.6 L626.7,1158.1 M627.4,1159.6 L627.4,1158.9 M628.0,1159.6 L628.0,1158.7 M630.4,1159.6 L630.4,1096.6 M631.0,1159.6 L631.0,1143.1 M631.6,1159.6 L631.6,1153.4 M632.9,1159.6 L632.9,1159.1 M634.1,1159.6 L634.1,1158.7 M634.7,1159.6 L634.7,1158.9 M635.3,1159.6 L635.3,1158.8 M636.5,1159.6 L636.5,1159.0 M642.0,1159.6 L642.0,1159.0 M642.6,1159.6 L642.6,1158.2 M643.9,1159.6 L643.9,1159.1 M645.1,1159.6 L645.1,1137.8 M649.4,1159.6 L649.4,1159.1 M650.0,1159.6 L650.0,1158.0 M650.6,1159.6 L650.6,1158.7 M651.2,1159.6 L651.2,1159.1 M653.6,1159.6 L653.6,1158.6 M654.2,1159.6 L654.2,1123.3 M654.9,1159.6 L654.9,1149.3 M658.5,1159.6 L658.5,1159.1 M659.1,1159.6 L659.1,1158.5 M659.7,1159.6 L659.7,1157.6 M660.4,1159.6 L660.4,1158.7 M666.5,1159.6 L666.5,1158.9 M667.7,1159.6 L667.7,1159.1 M668.3,1159.6 L668.3,1157.8 M669.5,1159.6 L669.5,1159.1 M670.7,1159.6 L670.7,1159.0 M674.4,1159.6 L674.4,1159.2 M675.0,1159.6 L675.0,1159.1 M675.6,1159.6 L675.6,1158.4 M676.2,1159.6 L676.2,1159.1 M676.8,1159.6 L676.8,1158.7 M677.5,1159.6 L677.5,1159.1 M683.6,1159.6 L683.6,1159.1 M684.2,1159.6 L684.2,1159.0 M685.4,1159.6 L685.4,1158.8 M690.3,1159.6 L690.3,1159.1 M691.5,1159.6 L691.5,1158.8 M692.1,1159.6 L692.1,1159.2 M694.0,1159.6 L694.0,1158.7 M698.8,1159.6 L698.8,1158.3 M699.5,1159.6 L699.5,1158.9 M700.1,1159.6 L700.1,1156.3 M701.3,1159.6 L701.3,1158.6 M702.5,1159.6 L702.5,1158.6 M708.0,1159.6 L708.0,1159.1 M708.6,1159.6 L708.6,1159.1 M709.2,1159.6 L709.2,1150.5 M711.1,1159.6 L711.1,1159.0 M714.7,1159.6 L714.7,1159.0 M716.0,1159.6 L716.0,1158.6 " stroke="#dc3a2c" stroke-width="1.1" fill="none"/><rect x="452.4" y="989.6" width="272.4" height="170.0" fill="none" stroke="#000" stroke-width="2.2"/><path d="M446.6,1159.6 L452,1159.6 M446.6,1118.4 L452,1118.4 M446.6,1077.2 L452,1077.2 M446.6,1036.0 L452,1036.0 M448.2,1139.0 L452,1139.0 M448.2,1097.8 L452,1097.8 M448.2,1056.6 L452,1056.6 M448.2,1015.4 L452,1015.4 M453.0,1159.6 L453.0,1164.2 M465.3,1159.6 L465.3,1164.2 M477.5,1159.6 L477.5,1164.2 M489.7,1159.6 L489.7,1164.2 M501.9,1159.6 L501.9,1164.2 M514.1,1159.6 L514.1,1164.2 M526.4,1159.6 L526.4,1164.2 M538.6,1159.6 L538.6,1164.2 M550.8,1159.6 L550.8,1164.2 M563.0,1159.6 L563.0,1164.2 M575.2,1159.6 L575.2,1164.2 M587.5,1159.6 L587.5,1164.2 M599.7,1159.6 L599.7,1164.2 M611.9,1159.6 L611.9,1164.2 M624.1,1159.6 L624.1,1164.2 M636.3,1159.6 L636.3,1164.2 M648.6,1159.6 L648.6,1164.2 M660.8,1159.6 L660.8,1164.2 M673.0,1159.6 L673.0,1164.2 M685.2,1159.6 L685.2,1164.2 M697.4,1159.6 L697.4,1164.2 M709.7,1159.6 L709.7,1164.2 M721.9,1159.6 L721.9,1164.2 " stroke="#000" stroke-width="1.9" fill="none"/><g font-size="15.9" fill="#111"><text x="444" y="1165.4" text-anchor="end">0</text><text x="444" y="1124.2" text-anchor="end">1</text><text x="444" y="1083.0" text-anchor="end">2</text><text x="444" y="1041.8" text-anchor="end">3</text><text transform="translate(470.3,1172.2) rotate(-45)" text-anchor="end">60</text><text transform="translate(506.9,1172.2) rotate(-45)" text-anchor="end">120</text><text transform="translate(543.6,1172.2) rotate(-45)" text-anchor="end">180</text><text transform="translate(580.2,1172.2) rotate(-45)" text-anchor="end">240</text><text transform="translate(616.9,1172.2) rotate(-45)" text-anchor="end">300</text><text transform="translate(653.6,1172.2) rotate(-45)" text-anchor="end">360</text><text transform="translate(690.2,1172.2) rotate(-45)" text-anchor="end">420</text><text transform="translate(726.9,1172.2) rotate(-45)" text-anchor="end">480</text><text x="582.2" y="1203.2" text-anchor="middle">m/z</text><text x="719.6" y="1008.5" text-anchor="end" class="i">17.069 -17.125 min</text><text x="468.8" y="1027.2">73.00</text><text x="503.4" y="1051.4">129.00</text><text x="482" y="1104.0">95.04</text><text x="625.2" y="1095.8">329.36</text><text x="649.2" y="1122.2">368.41</text><text x="674.8" y="1149.6">458.52</text></g><text x="419" y="1000.4" font-size="15.2" fill="#111">x10<tspan font-size="8.8" dy="-6">4</tspan></text>
<!-- panel f -->
<text x="753.6" y="791.4" font-size="31.8" class="b" fill="#111">f</text>
<g stroke="#000" stroke-width="2.6" fill="none">
<path d="M830.6,775.1 L830.6,1082.6 M829.6,1071.2 L1166.2,1071.2 M819.2,1071.2 L830.6,1071.2 M819.2,997.4 L830.6,997.4 M819.2,923.6 L830.6,923.6 M819.2,849.9 L830.6,849.9 M819.2,776.1 L830.6,776.1 M912.8,1071.2 L912.8,1082.6 M975.9,1071.2 L975.9,1082.6 M1039.0,1071.2 L1039.0,1082.6 M1102.2,1071.2 L1102.2,1082.6 M1165.3,1071.2 L1165.3,1082.6"/></g>
<path d="M830.6,1071.2 L881.2,1071.1 L882.4,1071.1 L883.6,1071.1 L884.8,1071.1 L886.0,1071.1 L887.2,1071.0 L888.4,1071.0 L889.6,1071.0 L890.7,1071.0 L891.9,1071.0 L893.1,1071.0 L894.3,1071.0 L895.5,1071.0 L896.7,1071.0 L897.9,1071.0 L899.1,1071.0 L900.3,1071.0 L901.4,1071.0 L902.6,1071.0 L903.8,1071.0 L905.0,1071.0 L906.2,1071.0 L907.4,1070.9 L908.6,1070.9 L909.8,1070.9 L911.0,1070.9 L912.1,1070.9 L913.3,1070.9 L914.5,1070.9 L915.7,1070.9 L916.9,1070.9 L918.1,1070.9 L919.3,1070.9 L920.5,1070.8 L921.6,1070.8 L922.8,1070.8 L924.0,1070.8 L925.2,1070.8 L926.4,1070.8 L927.6,1070.8 L928.8,1070.8 L930.0,1070.7 L931.2,1070.7 L932.3,1070.7 L933.5,1070.7 L934.7,1070.7 L935.9,1070.7 L937.1,1070.6 L938.3,1070.6 L939.5,1070.6 L940.7,1070.6 L941.9,1070.6 L943.0,1070.6 L944.2,1070.5 L945.4,1070.5 L946.6,1070.5 L947.8,1070.5 L949.0,1070.5 L950.2,1070.4 L951.4,1070.4 L952.5,1070.4 L953.7,1070.4 L954.9,1070.3 L956.1,1070.3 L957.3,1070.3 L958.5,1070.3 L959.7,1070.2 L960.9,1070.2 L962.1,1070.2 L963.2,1070.1 L964.4,1070.1 L965.6,1070.1 L966.8,1070.0 L968.0,1070.0 L969.2,1070.0 L970.4,1069.9 L971.6,1069.9 L972.8,1069.8 L973.9,1069.8 L975.1,1069.8 L976.3,1069.7 L977.5,1069.7 L978.7,1069.6 L979.9,1069.6 L981.1,1069.5 L982.3,1069.5 L983.4,1069.4 L984.6,1069.4 L985.8,1069.3 L987.0,1069.2 L988.2,1069.2 L989.4,1069.1 L990.6,1069.1 L991.8,1069.0 L993.0,1068.9 L994.1,1068.9 L995.3,1068.8 L996.5,1068.7 L997.7,1068.6 L998.9,1068.6 L1000.1,1068.5 L1001.3,1068.4 L1002.5,1068.3 L1003.7,1068.2 L1004.8,1068.1 L1006.0,1068.0 L1007.2,1067.9 L1008.4,1067.8 L1009.6,1067.7 L1010.8,1067.6 L1012.0,1067.5 L1013.2,1067.4 L1014.3,1067.3 L1015.5,1067.2 L1016.7,1067.1 L1017.9,1066.9 L1019.1,1066.8 L1020.3,1066.7 L1021.5,1066.5 L1022.7,1066.4 L1023.9,1066.3 L1025.0,1066.1 L1026.2,1066.0 L1027.4,1065.8 L1028.6,1065.6 L1029.8,1065.5 L1031.0,1065.3 L1032.2,1065.1 L1033.4,1064.9 L1034.6,1064.8 L1035.7,1064.6 L1036.9,1064.4 L1038.1,1064.2 L1039.3,1064.0 L1040.5,1063.8 L1041.7,1063.5 L1042.9,1063.3 L1044.1,1063.1 L1045.2,1062.8 L1046.4,1062.6 L1047.6,1062.3 L1048.8,1062.1 L1050.0,1061.8 L1051.2,1061.5 L1052.4,1061.3 L1053.6,1061.0 L1054.8,1060.7 L1055.9,1060.4 L1057.1,1060.1 L1058.3,1059.8 L1059.5,1059.4 L1060.7,1059.1 L1061.9,1058.7 L1063.1,1058.4 L1064.3,1058.0 L1065.5,1057.7 L1066.6,1057.3 L1067.8,1056.9 L1069.0,1056.5 L1070.2,1056.1 L1071.4,1055.6 L1072.6,1055.2 L1073.8,1054.8 L1075.0,1054.3 L1076.1,1053.8 L1077.3,1053.4 L1078.5,1052.9 L1079.7,1052.4 L1080.9,1051.9 L1082.1,1051.3 L1083.3,1050.8 L1084.5,1050.3 L1085.7,1049.7 L1086.8,1049.1 L1088.0,1048.5 L1089.2,1047.9 L1090.4,1047.3 L1091.6,1046.7 L1092.8,1046.1 L1094.0,1045.4 L1095.2,1044.7 L1096.3,1044.1 L1097.5,1043.4 L1098.7,1042.7 L1099.9,1041.9 L1101.1,1041.2 L1102.3,1040.5 L1103.5,1039.7 L1104.7,1038.9 L1105.9,1038.1 L1107.0,1037.3 L1108.2,1036.5 L1109.4,1035.7 L1110.6,1034.8 L1111.8,1033.9 L1113.0,1033.1 L1114.2,1032.2 L1115.4,1031.3 L1116.6,1030.4 L1117.7,1029.4 L1118.9,1028.5 L1120.1,1027.5 L1121.3,1026.5 L1122.5,1025.5 L1123.7,1024.5 L1124.9,1023.5 L1126.1,1022.5 L1127.2,1021.5 L1128.4,1020.4 L1129.6,1019.4 L1130.8,1018.3 L1132.0,1017.2 L1133.2,1016.1 L1134.4,1015.0 L1135.6,1013.9 L1136.8,1012.8 L1137.9,1011.6 L1139.1,1010.5 L1140.3,1009.3 L1141.5,1008.2 L1142.7,1007.0 L1143.9,1005.8 L1145.1,1004.6 L1146.3,1003.4 L1147.5,1002.2 L1148.6,1001.0 L1149.8,999.8 L1151.0,998.6 L1152.2,997.4 L1153.4,996.2 L1154.6,995.0 L1155.8,993.8 L1157.0,992.6 L1158.1,991.3 L1159.3,990.1 L1160.5,988.9 L1161.7,987.7 L1162.9,986.5 L1164.1,985.2 L1165.3,984.0" stroke="#48218f" stroke-width="2.5" fill="none" stroke-linejoin="round"/><path d="M1129.6,1007.7 L1140.8,1007.7 M1129.6,1022.5 L1140.8,1022.5 M1135.2,1007.7 L1135.2,1022.5" stroke="#48218f" stroke-width="1.5" fill="none"/><path d="M1159.7,976.4 L1170.9,976.4 M1159.7,991.1 L1170.9,991.1 M1165.3,976.4 L1165.3,991.1" stroke="#48218f" stroke-width="1.5" fill="none"/><path d="M824.0,1065.9 L837.2,1065.9 L830.6,1077.8 Z" fill="#48218f"/><path d="M887.7,1065.9 L900.9,1065.9 L894.3,1077.8 Z" fill="#48218f"/><path d="M917.8,1065.9 L931.0,1065.9 L924.4,1077.8 Z" fill="#48218f"/><path d="M947.9,1065.9 L961.1,1065.9 L954.5,1077.8 Z" fill="#48218f"/><path d="M978.0,1064.8 L991.2,1064.8 L984.6,1076.7 Z" fill="#48218f"/><path d="M1008.1,1063.0 L1021.3,1063.0 L1014.7,1074.8 Z" fill="#48218f"/><path d="M1038.2,1057.8 L1051.4,1057.8 L1044.8,1069.7 Z" fill="#48218f"/><path d="M1068.4,1048.2 L1081.6,1048.2 L1075.0,1060.1 Z" fill="#48218f"/><path d="M1098.5,1032.7 L1111.7,1032.7 L1105.1,1044.6 Z" fill="#48218f"/><path d="M1128.6,1009.8 L1141.8,1009.8 L1135.2,1021.7 Z" fill="#48218f"/><path d="M1158.7,978.5 L1171.9,978.5 L1165.3,990.4 Z" fill="#48218f"/>
<path d="M908.0,1071.2 L908.6,1071.1 L909.8,1071.0 L911.0,1070.8 L912.1,1070.7 L913.3,1070.5 L914.5,1070.4 L915.7,1070.2 L916.9,1070.0 L918.1,1069.9 L919.3,1069.7 L920.5,1069.5 L921.6,1069.3 L922.8,1069.1 L924.0,1068.9 L925.2,1068.7 L926.4,1068.5 L927.6,1068.3 L928.8,1068.0 L930.0,1067.8 L931.2,1067.5 L932.3,1067.3 L933.5,1067.0 L934.7,1066.8 L935.9,1066.5 L937.1,1066.2 L938.3,1065.9 L939.5,1065.6 L940.7,1065.3 L941.9,1065.0 L943.0,1064.7 L944.2,1064.4 L945.4,1064.0 L946.6,1063.7 L947.8,1063.3 L949.0,1062.9 L950.2,1062.5 L951.4,1062.1 L952.5,1061.7 L953.7,1061.3 L954.9,1060.9 L956.1,1060.5 L957.3,1060.0 L958.5,1059.5 L959.7,1059.1 L960.9,1058.6 L962.1,1058.1 L963.2,1057.6 L964.4,1057.0 L965.6,1056.5 L966.8,1055.9 L968.0,1055.4 L969.2,1054.8 L970.4,1054.2 L971.6,1053.6 L972.8,1053.0 L973.9,1052.3 L975.1,1051.7 L976.3,1051.0 L977.5,1050.3 L978.7,1049.6 L979.9,1048.9 L981.1,1048.1 L982.3,1047.4 L983.4,1046.6 L984.6,1045.8 L985.8,1045.0 L987.0,1044.2 L988.2,1043.4 L989.4,1042.5 L990.6,1041.6 L991.8,1040.7 L993.0,1039.8 L994.1,1038.9 L995.3,1038.0 L996.5,1037.0 L997.7,1036.0 L998.9,1035.0 L1000.1,1034.0 L1001.3,1033.0 L1002.5,1031.9 L1003.7,1030.9 L1004.8,1029.8 L1006.0,1028.7 L1007.2,1027.6 L1008.4,1026.5 L1009.6,1025.3 L1010.8,1024.1 L1012.0,1023.0 L1013.2,1021.8 L1014.3,1020.6 L1015.5,1019.3 L1016.7,1018.1 L1017.9,1016.8 L1019.1,1015.6 L1020.3,1014.3 L1021.5,1013.0 L1022.7,1011.7 L1023.9,1010.4 L1025.0,1009.1 L1026.2,1007.7 L1027.4,1006.4 L1028.6,1005.0 L1029.8,1003.6 L1031.0,1002.3 L1032.2,1000.9 L1033.4,999.5 L1034.6,998.1 L1035.7,996.7 L1036.9,995.3 L1038.1,993.9 L1039.3,992.5 L1040.5,991.1 L1041.7,989.6 L1042.9,988.2 L1044.1,986.8 L1045.2,985.4 L1046.4,984.0 L1047.6,982.6 L1048.8,981.1 L1050.0,979.7 L1051.2,978.3 L1052.4,976.9 L1053.6,975.5 L1054.8,974.1 L1055.9,972.7 L1057.1,971.4 L1058.3,970.0 L1059.5,968.6 L1060.7,967.3 L1061.9,965.9 L1063.1,964.6 L1064.3,963.3 L1065.5,962.0 L1066.6,960.7 L1067.8,959.4 L1069.0,958.1 L1070.2,956.8 L1071.4,955.6 L1072.6,954.4 L1073.8,953.2 L1075.0,951.9 L1076.1,950.8 L1077.3,949.6 L1078.5,948.4 L1079.7,947.3 L1080.9,946.2 L1082.1,945.1 L1083.3,944.0 L1084.5,942.9 L1085.7,941.8 L1086.8,940.8 L1088.0,939.8 L1089.2,938.8 L1090.4,937.8 L1091.6,936.8 L1092.8,935.9 L1094.0,934.9 L1095.2,934.0 L1096.3,933.1 L1097.5,932.2 L1098.7,931.4 L1099.9,930.5 L1101.1,929.7 L1102.3,928.9 L1103.5,928.1 L1104.7,927.3 L1105.9,926.5 L1107.0,925.8 L1108.2,925.1 L1109.4,924.4 L1110.6,923.7 L1111.8,923.0 L1113.0,922.3 L1114.2,921.7 L1115.4,921.0 L1116.6,920.4 L1117.7,919.8 L1118.9,919.2 L1120.1,918.6 L1121.3,918.1 L1122.5,917.5 L1123.7,917.0 L1124.9,916.5 L1126.1,916.0 L1127.2,915.5 L1128.4,915.0 L1129.6,914.5 L1130.8,914.1 L1132.0,913.6 L1133.2,913.2 L1134.4,912.8 L1135.6,912.4 L1136.8,912.0 L1137.9,911.6 L1139.1,911.2 L1140.3,910.8 L1141.5,910.5 L1142.7,910.1 L1143.9,909.8 L1145.1,909.5 L1146.3,909.1 L1147.5,908.8 L1148.6,908.5 L1149.8,908.2 L1151.0,907.9 L1152.2,907.7 L1153.4,907.4 L1154.6,907.1 L1155.8,906.9 L1157.0,906.6 L1158.1,906.4 L1159.3,906.2 L1160.5,905.9 L1161.7,905.7 L1162.9,905.5 L1164.1,905.3 L1165.3,905.1" stroke="#2a8b85" stroke-width="2.5" fill="none" stroke-linejoin="round"/><path d="M1039.2,972.0 L1050.4,972.0 M1039.2,990.4 L1050.4,990.4 M1044.8,972.0 L1044.8,990.4" stroke="#2a8b85" stroke-width="1.5" fill="none"/><path d="M1069.4,945.8 L1080.6,945.8 M1069.4,960.5 L1080.6,960.5 M1075.0,945.8 L1075.0,960.5" stroke="#2a8b85" stroke-width="1.5" fill="none"/><path d="M1129.6,906.3 L1140.8,906.3 M1129.6,921.1 L1140.8,921.1 M1135.2,906.3 L1135.2,921.1" stroke="#2a8b85" stroke-width="1.5" fill="none"/><path d="M824.0,1076.5 L837.2,1076.5 L830.6,1064.6 Z" fill="#2a8b85"/><path d="M887.7,1076.5 L900.9,1076.5 L894.3,1064.6 Z" fill="#2a8b85"/><path d="M917.8,1076.5 L931.0,1076.5 L924.4,1064.6 Z" fill="#2a8b85"/><path d="M947.9,1073.5 L961.1,1073.5 L954.5,1061.6 Z" fill="#2a8b85"/><path d="M978.0,1055.8 L991.2,1055.8 L984.6,1043.9 Z" fill="#2a8b85"/><path d="M1008.1,1020.0 L1021.3,1020.0 L1014.7,1008.2 Z" fill="#2a8b85"/><path d="M1038.2,986.5 L1051.4,986.5 L1044.8,974.6 Z" fill="#2a8b85"/><path d="M1068.4,958.4 L1081.6,958.4 L1075.0,946.6 Z" fill="#2a8b85"/><path d="M1098.5,938.9 L1111.7,938.9 L1105.1,927.0 Z" fill="#2a8b85"/><path d="M1128.6,919.0 L1141.8,919.0 L1135.2,907.1 Z" fill="#2a8b85"/><path d="M1158.7,905.3 L1171.9,905.3 L1165.3,893.4 Z" fill="#2a8b85"/>
<path d="M935.8,1071.2 L935.9,1071.2 L937.1,1071.0 L938.3,1070.8 L939.5,1070.6 L940.7,1070.4 L941.9,1070.2 L943.0,1070.0 L944.2,1069.7 L945.4,1069.5 L946.6,1069.2 L947.8,1069.0 L949.0,1068.7 L950.2,1068.4 L951.4,1068.0 L952.5,1067.7 L953.7,1067.4 L954.9,1067.0 L956.1,1066.6 L957.3,1066.2 L958.5,1065.8 L959.7,1065.3 L960.9,1064.9 L962.1,1064.4 L963.2,1063.9 L964.4,1063.3 L965.6,1062.8 L966.8,1062.2 L968.0,1061.6 L969.2,1060.9 L970.4,1060.2 L971.6,1059.5 L972.8,1058.8 L973.9,1058.0 L975.1,1057.2 L976.3,1056.3 L977.5,1055.5 L978.7,1054.5 L979.9,1053.6 L981.1,1052.6 L982.3,1051.5 L983.4,1050.4 L984.6,1049.3 L985.8,1048.1 L987.0,1046.9 L988.2,1045.6 L989.4,1044.3 L990.6,1042.9 L991.8,1041.5 L993.0,1040.0 L994.1,1038.4 L995.3,1036.8 L996.5,1035.2 L997.7,1033.5 L998.9,1031.7 L1000.1,1029.8 L1001.3,1028.0 L1002.5,1026.0 L1003.7,1024.0 L1004.8,1021.9 L1006.0,1019.8 L1007.2,1017.6 L1008.4,1015.3 L1009.6,1013.0 L1010.8,1010.7 L1012.0,1008.2 L1013.2,1005.7 L1014.3,1003.2 L1015.5,1000.6 L1016.7,998.0 L1017.9,995.3 L1019.1,992.6 L1020.3,989.8 L1021.5,987.0 L1022.7,984.1 L1023.9,981.2 L1025.0,978.3 L1026.2,975.4 L1027.4,972.4 L1028.6,969.4 L1029.8,966.4 L1031.0,963.3 L1032.2,960.3 L1033.4,957.3 L1034.6,954.2 L1035.7,951.2 L1036.9,948.1 L1038.1,945.1 L1039.3,942.1 L1040.5,939.1 L1041.7,936.1 L1042.9,933.2 L1044.1,930.3 L1045.2,927.4 L1046.4,924.5 L1047.6,921.7 L1048.8,919.0 L1050.0,916.2 L1051.2,913.6 L1052.4,910.9 L1053.6,908.4 L1054.8,905.8 L1055.9,903.4 L1057.1,900.9 L1058.3,898.6 L1059.5,896.3 L1060.7,894.0 L1061.9,891.9 L1063.1,889.7 L1064.3,887.7 L1065.5,885.7 L1066.6,883.7 L1067.8,881.8 L1069.0,880.0 L1070.2,878.2 L1071.4,876.5 L1072.6,874.9 L1073.8,873.3 L1075.0,871.8 L1076.1,870.3 L1077.3,868.9 L1078.5,867.5 L1079.7,866.2 L1080.9,864.9 L1082.1,863.7 L1083.3,862.5 L1084.5,861.4 L1085.7,860.3 L1086.8,859.2 L1088.0,858.2 L1089.2,857.3 L1090.4,856.4 L1091.6,855.5 L1092.8,854.7 L1094.0,853.9 L1095.2,853.1 L1096.3,852.4 L1097.5,851.6 L1098.7,851.0 L1099.9,850.3 L1101.1,849.7 L1102.3,849.1 L1103.5,848.6 L1104.7,848.0 L1105.9,847.5 L1107.0,847.0 L1108.2,846.6 L1109.4,846.1 L1110.6,845.7 L1111.8,845.3 L1113.0,844.9 L1114.2,844.6 L1115.4,844.2 L1116.6,843.9 L1117.7,843.6 L1118.9,843.3 L1120.1,843.0 L1121.3,842.7 L1122.5,842.5 L1123.7,842.2 L1124.9,842.0 L1126.1,841.7 L1127.2,841.5 L1128.4,841.3 L1129.6,841.1 L1130.8,841.0 L1132.0,840.8 L1133.2,840.6 L1134.4,840.5 L1135.6,840.3 L1136.8,840.2 L1137.9,840.0 L1139.1,839.9 L1140.3,839.8 L1141.5,839.7 L1142.7,839.5 L1143.9,839.4 L1145.1,839.3 L1146.3,839.2 L1147.5,839.2 L1148.6,839.1 L1149.8,839.0 L1151.0,838.9 L1152.2,838.8 L1153.4,838.8 L1154.6,838.7 L1155.8,838.6 L1157.0,838.6 L1158.1,838.5 L1159.3,838.5 L1160.5,838.4 L1161.7,838.4 L1162.9,838.3 L1164.1,838.3 L1165.3,838.2" stroke="#e8166f" stroke-width="2.5" fill="none" stroke-linejoin="round"/><path d="M1009.1,994.1 L1020.3,994.1 M1009.1,1005.9 L1020.3,1005.9 M1014.7,994.1 L1014.7,1005.9" stroke="#e8166f" stroke-width="1.5" fill="none"/><path d="M1039.2,914.0 L1050.4,914.0 M1039.2,934.7 L1050.4,934.7 M1044.8,914.0 L1044.8,934.7" stroke="#e8166f" stroke-width="1.5" fill="none"/><path d="M1129.6,832.5 L1140.8,832.5 M1129.6,847.3 L1140.8,847.3 M1135.2,832.5 L1135.2,847.3" stroke="#e8166f" stroke-width="1.5" fill="none"/><path d="M1069.4,874.6 L1080.6,874.6 M1069.4,888.6 L1080.6,888.6 M1075.0,874.6 L1075.0,888.6" stroke="#e8166f" stroke-width="1.5" fill="none"/><path d="M1099.5,847.3 L1110.7,847.3 M1099.5,856.1 L1110.7,856.1 M1105.1,847.3 L1105.1,856.1" stroke="#e8166f" stroke-width="1.5" fill="none"/><rect x="824.5" y="1065.1" width="12.2" height="12.2" fill="#e8166f"/><rect x="888.2" y="1065.1" width="12.2" height="12.2" fill="#e8166f"/><rect x="918.3" y="1065.1" width="12.2" height="12.2" fill="#e8166f"/><rect x="948.4" y="1065.1" width="12.2" height="12.2" fill="#e8166f"/><rect x="978.5" y="1057.0" width="12.2" height="12.2" fill="#e8166f"/><rect x="1008.6" y="993.9" width="12.2" height="12.2" fill="#e8166f"/><rect x="1038.7" y="918.3" width="12.2" height="12.2" fill="#e8166f"/><rect x="1068.9" y="875.5" width="12.2" height="12.2" fill="#e8166f"/><rect x="1099.0" y="845.6" width="12.2" height="12.2" fill="#e8166f"/><rect x="1129.1" y="833.8" width="12.2" height="12.2" fill="#e8166f"/><rect x="1159.2" y="822.7" width="12.2" height="12.2" fill="#e8166f"/>
<path d="M897.9,1071.2 L899.1,1070.4 L900.3,1069.5 L901.4,1068.6 L902.6,1067.6 L903.8,1066.6 L905.0,1065.6 L906.2,1064.5 L907.4,1063.3 L908.6,1062.1 L909.8,1060.9 L911.0,1059.6 L912.1,1058.2 L913.3,1056.8 L914.5,1055.3 L915.7,1053.8 L916.9,1052.1 L918.1,1050.5 L919.3,1048.7 L920.5,1046.9 L921.6,1045.0 L922.8,1043.1 L924.0,1041.1 L925.2,1039.0 L926.4,1036.8 L927.6,1034.5 L928.8,1032.2 L930.0,1029.8 L931.2,1027.3 L932.3,1024.8 L933.5,1022.1 L934.7,1019.4 L935.9,1016.6 L937.1,1013.8 L938.3,1010.8 L939.5,1007.8 L940.7,1004.7 L941.9,1001.6 L943.0,998.3 L944.2,995.0 L945.4,991.7 L946.6,988.3 L947.8,984.8 L949.0,981.3 L950.2,977.7 L951.4,974.1 L952.5,970.4 L953.7,966.7 L954.9,963.0 L956.1,959.2 L957.3,955.4 L958.5,951.6 L959.7,947.8 L960.9,944.0 L962.1,940.1 L963.2,936.3 L964.4,932.5 L965.6,928.7 L966.8,924.9 L968.0,921.2 L969.2,917.4 L970.4,913.8 L971.6,910.1 L972.8,906.5 L973.9,902.9 L975.1,899.4 L976.3,896.0 L977.5,892.6 L978.7,889.2 L979.9,885.9 L981.1,882.7 L982.3,879.6 L983.4,876.5 L984.6,873.5 L985.8,870.6 L987.0,867.8 L988.2,865.0 L989.4,862.3 L990.6,859.7 L991.8,857.2 L993.0,854.7 L994.1,852.3 L995.3,850.0 L996.5,847.8 L997.7,845.7 L998.9,843.6 L1000.1,841.6 L1001.3,839.6 L1002.5,837.8 L1003.7,836.0 L1004.8,834.3 L1006.0,832.6 L1007.2,831.0 L1008.4,829.5 L1009.6,828.0 L1010.8,826.6 L1012.0,825.3 L1013.2,824.0 L1014.3,822.8 L1015.5,821.6 L1016.7,820.4 L1017.9,819.4 L1019.1,818.3 L1020.3,817.3 L1021.5,816.4 L1022.7,815.5 L1023.9,814.6 L1025.0,813.8 L1026.2,813.0 L1027.4,812.3 L1028.6,811.6 L1029.8,810.9 L1031.0,810.2 L1032.2,809.6 L1033.4,809.0 L1034.6,808.5 L1035.7,807.9 L1036.9,807.4 L1038.1,806.9 L1039.3,806.5 L1040.5,806.0 L1041.7,805.6 L1042.9,805.2 L1044.1,804.8 L1045.2,804.5 L1046.4,804.1 L1047.6,803.8 L1048.8,803.5 L1050.0,803.2 L1051.2,802.9 L1052.4,802.7 L1053.6,802.4 L1054.8,802.2 L1055.9,801.9 L1057.1,801.7 L1058.3,801.5 L1059.5,801.3 L1060.7,801.1 L1061.9,801.0 L1063.1,800.8 L1064.3,800.6 L1065.5,800.5 L1066.6,800.3 L1067.8,800.2 L1069.0,800.1 L1070.2,800.0 L1071.4,799.8 L1072.6,799.7 L1073.8,799.6 L1075.0,799.5 L1076.1,799.4 L1077.3,799.3 L1078.5,799.3 L1079.7,799.2 L1080.9,799.1 L1082.1,799.0 L1083.3,799.0 L1084.5,798.9 L1085.7,798.8 L1086.8,798.8 L1088.0,798.7 L1089.2,798.7 L1090.4,798.6 L1091.6,798.6 L1092.8,798.5 L1094.0,798.5 L1095.2,798.4 L1096.3,798.4 L1097.5,798.4 L1098.7,798.3 L1099.9,798.3 L1101.1,798.3 L1102.3,798.2 L1103.5,798.2 L1104.7,798.2 L1105.9,798.1 L1107.0,798.1 L1108.2,798.1 L1109.4,798.1 L1110.6,798.1 L1111.8,798.0 L1113.0,798.0 L1114.2,798.0 L1115.4,798.0 L1116.6,798.0 L1117.7,798.0 L1118.9,797.9 L1120.1,797.9 L1121.3,797.9 L1122.5,797.9 L1123.7,797.9 L1124.9,797.9 L1126.1,797.9 L1127.2,797.9 L1128.4,797.8 L1129.6,797.8 L1130.8,797.8 L1132.0,797.8 L1133.2,797.8 L1134.4,797.8 L1135.6,797.8 L1136.8,797.8 L1137.9,797.8 L1139.1,797.8 L1140.3,797.8 L1141.5,797.8 L1142.7,797.8 L1143.9,797.8 L1145.1,797.8 L1146.3,797.8 L1147.5,797.7 L1148.6,797.7 L1149.8,797.7 L1151.0,797.7 L1152.2,797.7 L1153.4,797.7 L1154.6,797.7 L1155.8,797.7 L1157.0,797.7 L1158.1,797.7 L1159.3,797.7 L1160.5,797.7 L1161.7,797.7 L1162.9,797.7 L1164.1,797.7 L1165.3,797.7" stroke="#000" stroke-width="2.5" fill="none" stroke-linejoin="round"/><path d="M948.9,952.0 L960.1,952.0 M948.9,963.1 L960.1,963.1 M954.5,952.0 L954.5,963.1" stroke="#000" stroke-width="1.5" fill="none"/><path d="M979.0,866.1 L990.2,866.1 M979.0,880.8 L990.2,880.8 M984.6,866.1 L984.6,880.8" stroke="#000" stroke-width="1.5" fill="none"/><path d="M1009.1,814.4 L1020.3,814.4 M1009.1,827.0 L1020.3,827.0 M1014.7,814.4 L1014.7,827.0" stroke="#000" stroke-width="1.5" fill="none"/><path d="M1039.2,803.7 L1050.4,803.7 M1039.2,813.3 L1050.4,813.3 M1044.8,803.7 L1044.8,813.3" stroke="#000" stroke-width="1.5" fill="none"/><path d="M1069.4,798.6 L1080.6,798.6 M1069.4,808.2 L1080.6,808.2 M1075.0,798.6 L1075.0,808.2" stroke="#000" stroke-width="1.5" fill="none"/><path d="M1099.5,794.2 L1110.7,794.2 M1099.5,801.5 L1110.7,801.5 M1105.1,794.2 L1105.1,801.5" stroke="#000" stroke-width="1.5" fill="none"/><path d="M1129.6,787.1 L1140.8,787.1 M1129.6,800.4 L1140.8,800.4 M1135.2,787.1 L1135.2,800.4" stroke="#000" stroke-width="1.5" fill="none"/><circle cx="830.6" cy="1071.2" r="5.9" fill="#000"/><circle cx="894.3" cy="1071.2" r="5.9" fill="#000"/><circle cx="924.4" cy="1050.9" r="5.9" fill="#000"/><circle cx="954.5" cy="957.6" r="5.9" fill="#000"/><circle cx="984.6" cy="873.5" r="5.9" fill="#000"/><circle cx="1014.7" cy="820.7" r="5.9" fill="#000"/><circle cx="1044.8" cy="808.5" r="5.9" fill="#000"/><circle cx="1075.0" cy="803.4" r="5.9" fill="#000"/><circle cx="1105.1" cy="797.8" r="5.9" fill="#000"/><circle cx="1135.2" cy="793.8" r="5.9" fill="#000"/><circle cx="1165.3" cy="796.0" r="5.9" fill="#000"/>
<rect x="855.2" y="1067.6" width="7.6" height="7.2" fill="#fff"/>
<path d="M849.8,1076.6 L862.8,1065.2 M854.6,1076.6 L867.6,1065.2" stroke="#000" stroke-width="2.4" fill="none"/>
<g font-size="18.9" fill="#111" text-anchor="end">
<text x="813.9" y="1078.1">0</text>
<text x="813.9" y="1004.3">20</text>
<text x="813.9" y="930.5">40</text>
<text x="813.9" y="856.8">60</text>
<text x="813.9" y="783.0">80</text>
</g>
<g font-size="18.4" fill="#111" text-anchor="middle">
<text x="911.4" y="1098.6" font-size="19.3">8</text>
<text x="974.3" y="1098.6" font-size="19.3">7</text>
<text x="1040.6" y="1098.6" font-size="19.3">6</text>
<text x="1104" y="1098.6" font-size="19.3">5</text>
<text x="1167" y="1098.6" font-size="19.3">4</text>
<text x="829.4" y="1097.4" font-size="16.6">∞</text>
<text x="998" y="1117.4" font-size="18.6">p[agonist (M)]</text>
<text transform="translate(782.8,921) rotate(-90)">% of cells signaling</text>
</g>
<g stroke-width="1.6" fill="none"><path d="M739.6,1145.2 L780.8,1145.2" stroke="#000"/><path d="M739.6,1171.2 L780.8,1171.2" stroke="#e8166f"/><path d="M980.2,1145.2 L1021.8,1145.2" stroke="#2a8b85"/><path d="M980.2,1171.2 L1021.8,1171.2" stroke="#48218f"/></g>
<circle cx="760.2" cy="1145.2" r="8" fill="#000"/>
<rect x="752.1" y="1163.1" width="16.2" height="16.2" fill="#e8166f"/>
<path d="M992.1,1152.0 L1009.1,1152.0 L1000.6,1136.7 Z" fill="#2a8b85"/>
<path d="M992.1,1164.4 L1009.1,1164.4 L1000.6,1179.7 Z" fill="#48218f"/>
<g font-size="18.7" fill="#111"><text x="783.2" y="1151.4">cholesterol +DAMGO</text><text x="783.2" y="1177.4">cholesterol +morphine</text><text x="1023.6" y="1151.4">ergosterol +DAMGO</text><text x="1023.6" y="1177.4">ergosterol +morphine</text></g>
</svg>
</body></html>
